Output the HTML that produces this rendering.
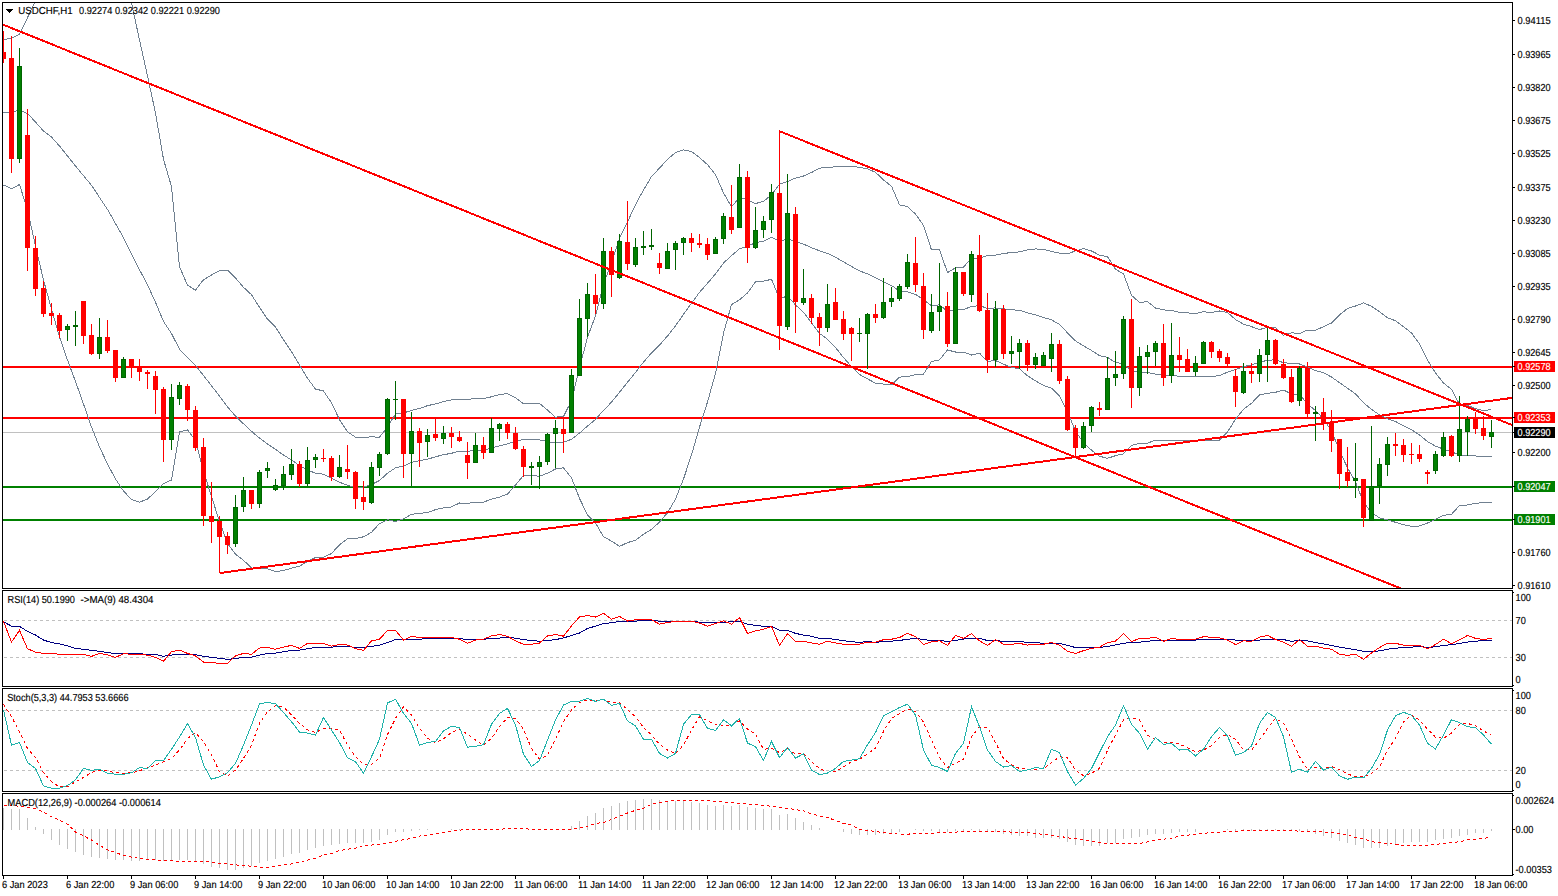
<!DOCTYPE html>
<html><head><meta charset="utf-8"><style>
html,body{margin:0;padding:0;background:#fff;overflow:hidden;}
svg{display:block;}
text{font-family:"Liberation Sans",sans-serif;text-rendering:geometricPrecision;}
</style></head><body>
<svg width="1558" height="896" viewBox="0 0 1558 896" font-family='"Liberation Sans", sans-serif'><defs>
<clipPath id="cm"><rect x="3" y="3" width="1509" height="585"/></clipPath>
<clipPath id="cr"><rect x="3" y="591" width="1509" height="95"/></clipPath>
<clipPath id="cs"><rect x="3" y="689" width="1509" height="102"/></clipPath>
<clipPath id="cd"><rect x="3" y="794" width="1509" height="81"/></clipPath>
</defs>
<rect x="0" y="0" width="1558" height="896" fill="#fff"/>
<g clip-path="url(#cm)">
<rect x="3" y="432" width="1509" height="1" fill="#c0c0c0"/>
<rect x="3" y="366" width="1509" height="2" fill="#ff0000"/>
<rect x="3" y="417" width="1509" height="2" fill="#ff0000"/>
<rect x="3" y="486" width="1509" height="2" fill="#008000"/>
<rect x="3" y="519" width="1509" height="2" fill="#008000"/>
<path d="M3.5,39.6 L11.5,38.4 L19.5,34.4 L27.5,17.6 L35.5,0.8 L43.5,-40.0 L123.5,-34.0 L131.5,3.0 L139.5,40.0 L147.5,76.0 L155.5,113.0 L163.5,159.3 L171.5,186.6 L179.5,266.8 L187.5,285.1 L195.5,290.3 L203.5,279.7 L211.5,275.0 L219.5,270.6 L227.5,270.2 L235.5,278.0 L243.5,287.3 L251.5,294.7 L259.5,307.4 L267.5,319.1 L275.5,327.1 L283.5,339.7 L291.5,351.7 L299.5,364.9 L307.5,378.3 L315.5,389.0 L323.5,391.0 L331.5,402.8 L339.5,419.7 L347.5,431.8 L355.5,437.2 L363.5,437.6 L371.5,436.8 L379.5,437.3 L387.5,426.8 L395.5,414.1 L403.5,413.0 L411.5,410.4 L419.5,408.4 L427.5,405.7 L435.5,403.9 L443.5,401.6 L451.5,399.8 L459.5,399.2 L467.5,399.3 L475.5,398.7 L483.5,398.5 L491.5,396.8 L499.5,394.5 L507.5,393.6 L515.5,397.6 L523.5,403.7 L531.5,403.8 L539.5,403.4 L547.5,410.1 L555.5,417.2 L563.5,416.4 L571.5,400.8 L579.5,367.9 L587.5,337.2 L595.5,315.8 L603.5,283.8 L611.5,263.3 L619.5,238.1 L627.5,222.0 L635.5,204.6 L643.5,190.0 L651.5,176.5 L659.5,168.1 L667.5,159.3 L675.5,152.5 L683.5,149.9 L691.5,151.5 L699.5,157.5 L707.5,164.7 L715.5,174.6 L723.5,192.9 L731.5,206.8 L739.5,197.5 L747.5,199.7 L755.5,203.6 L763.5,201.3 L771.5,194.9 L779.5,184.2 L787.5,181.5 L795.5,178.1 L803.5,176.0 L811.5,172.5 L819.5,168.1 L827.5,167.5 L835.5,166.8 L843.5,166.2 L851.5,166.4 L859.5,167.3 L867.5,168.8 L875.5,172.3 L883.5,180.0 L891.5,186.2 L899.5,204.8 L907.5,206.7 L915.5,214.0 L923.5,225.4 L931.5,249.9 L939.5,249.7 L947.5,272.6 L955.5,267.8 L963.5,267.1 L971.5,258.0 L979.5,258.1 L987.5,255.4 L995.5,255.2 L1003.5,253.6 L1011.5,252.4 L1019.5,251.9 L1027.5,249.9 L1035.5,248.9 L1043.5,249.5 L1051.5,251.4 L1059.5,253.1 L1067.5,253.8 L1075.5,250.9 L1083.5,248.6 L1091.5,251.0 L1099.5,255.1 L1107.5,256.6 L1115.5,269.3 L1123.5,273.9 L1131.5,295.3 L1139.5,302.4 L1147.5,301.7 L1155.5,308.0 L1163.5,309.9 L1171.5,310.4 L1179.5,312.4 L1187.5,312.9 L1195.5,313.5 L1203.5,311.7 L1211.5,312.6 L1219.5,311.0 L1227.5,312.5 L1235.5,319.5 L1243.5,324.1 L1251.5,326.6 L1259.5,329.6 L1267.5,327.3 L1275.5,327.3 L1283.5,335.2 L1291.5,332.8 L1299.5,333.5 L1307.5,330.1 L1315.5,330.3 L1323.5,326.6 L1331.5,323.0 L1339.5,314.9 L1347.5,308.5 L1355.5,306.0 L1363.5,302.9 L1371.5,306.2 L1379.5,311.8 L1387.5,317.8 L1395.5,320.7 L1403.5,326.7 L1411.5,333.0 L1419.5,343.7 L1427.5,360.0 L1435.5,372.9 L1443.5,383.0 L1451.5,389.4 L1459.5,404.3 L1467.5,405.4 L1475.5,408.6 L1483.5,410.6 L1491.5,409.6" fill="none" stroke="#708090" stroke-width="1" shape-rendering="crispEdges"/>
<path d="M3.5,112.5 L11.5,111.8 L19.5,110.3 L27.5,113.5 L35.5,122.0 L43.5,131.0 L51.5,137.0 L59.5,146.0 L67.5,156.0 L75.5,166.0 L83.5,175.7 L91.5,185.3 L99.5,197.4 L107.5,209.4 L115.5,223.5 L123.5,237.6 L131.5,253.7 L139.5,269.7 L147.5,284.8 L155.5,302.3 L163.5,321.4 L171.5,333.4 L179.5,349.3 L187.5,357.4 L195.5,365.4 L203.5,375.5 L211.5,385.8 L219.5,396.1 L227.5,406.9 L235.5,416.0 L243.5,423.8 L251.5,431.3 L259.5,438.1 L267.5,444.0 L275.5,449.4 L283.5,455.1 L291.5,459.9 L299.5,465.6 L307.5,469.9 L315.5,473.3 L323.5,474.2 L331.5,478.1 L339.5,482.2 L347.5,485.3 L355.5,487.9 L363.5,487.2 L371.5,484.5 L379.5,480.5 L387.5,473.2 L395.5,467.8 L403.5,466.0 L411.5,462.3 L419.5,460.8 L427.5,459.2 L435.5,456.8 L443.5,454.7 L451.5,453.3 L459.5,451.1 L467.5,451.2 L475.5,450.6 L483.5,450.3 L491.5,447.9 L499.5,445.8 L507.5,443.8 L515.5,441.3 L523.5,439.5 L531.5,439.5 L539.5,439.9 L547.5,441.6 L555.5,443.1 L563.5,442.1 L571.5,439.3 L579.5,433.1 L587.5,426.1 L595.5,419.4 L603.5,410.3 L611.5,402.2 L619.5,392.3 L627.5,382.3 L635.5,372.4 L643.5,362.1 L651.5,352.9 L659.5,345.1 L667.5,336.0 L675.5,325.8 L683.5,314.4 L691.5,303.2 L699.5,292.3 L707.5,283.3 L715.5,273.9 L723.5,263.0 L731.5,255.7 L739.5,248.7 L747.5,246.3 L755.5,242.7 L763.5,241.2 L771.5,237.1 L779.5,241.3 L787.5,238.8 L795.5,241.5 L803.5,244.1 L811.5,247.7 L819.5,250.8 L827.5,253.4 L835.5,257.2 L843.5,261.9 L851.5,266.4 L859.5,270.9 L867.5,273.9 L875.5,277.7 L883.5,282.0 L891.5,285.5 L899.5,291.0 L907.5,291.7 L915.5,294.4 L923.5,299.7 L931.5,305.8 L939.5,304.8 L947.5,311.3 L955.5,309.9 L963.5,309.6 L971.5,306.5 L979.5,305.6 L987.5,308.4 L995.5,307.9 L1003.5,308.9 L1011.5,309.8 L1019.5,310.3 L1027.5,312.8 L1035.5,314.8 L1043.5,317.5 L1051.5,319.8 L1059.5,324.5 L1067.5,332.8 L1075.5,340.9 L1083.5,345.8 L1091.5,350.5 L1099.5,355.7 L1107.5,357.4 L1115.5,362.5 L1123.5,363.8 L1131.5,370.5 L1139.5,372.7 L1147.5,372.4 L1155.5,374.1 L1163.5,375.3 L1171.5,375.5 L1179.5,376.3 L1187.5,376.6 L1195.5,376.9 L1203.5,376.3 L1211.5,376.6 L1219.5,375.5 L1227.5,372.2 L1235.5,369.4 L1243.5,366.7 L1251.5,364.9 L1259.5,362.2 L1267.5,360.3 L1275.5,359.8 L1283.5,362.7 L1291.5,363.4 L1299.5,364.0 L1307.5,367.0 L1315.5,370.5 L1323.5,372.8 L1331.5,377.0 L1339.5,382.7 L1347.5,388.2 L1355.5,393.9 L1363.5,402.7 L1371.5,409.4 L1379.5,414.8 L1387.5,418.8 L1395.5,421.5 L1403.5,425.7 L1411.5,429.7 L1419.5,434.9 L1427.5,441.5 L1435.5,446.1 L1443.5,449.1 L1451.5,451.8 L1459.5,454.9 L1467.5,455.2 L1475.5,456.0 L1483.5,456.6 L1491.5,456.2" fill="none" stroke="#708090" stroke-width="1" shape-rendering="crispEdges"/>
<path d="M3.5,185.0 L11.5,188.8 L19.5,184.5 L27.5,210.0 L35.5,246.0 L43.5,280.0 L51.5,309.0 L59.5,337.0 L67.5,360.0 L75.5,381.5 L83.5,404.0 L91.5,427.0 L99.5,447.0 L107.5,464.0 L115.5,479.0 L123.5,491.0 L131.5,499.5 L139.5,502.2 L147.5,499.0 L155.5,491.7 L163.5,483.6 L171.5,480.1 L179.5,431.9 L187.5,429.8 L195.5,440.4 L203.5,471.3 L211.5,496.5 L219.5,521.5 L227.5,543.6 L235.5,554.1 L243.5,560.3 L251.5,568.0 L259.5,568.8 L267.5,568.9 L275.5,571.6 L283.5,570.5 L291.5,568.2 L299.5,566.2 L307.5,561.5 L315.5,557.5 L323.5,557.3 L331.5,553.5 L339.5,544.8 L347.5,538.8 L355.5,538.6 L363.5,536.8 L371.5,532.3 L379.5,523.6 L387.5,519.7 L395.5,521.5 L403.5,518.9 L411.5,514.3 L419.5,513.3 L427.5,512.6 L435.5,509.6 L443.5,507.9 L451.5,506.9 L459.5,503.0 L467.5,503.2 L475.5,502.6 L483.5,502.2 L491.5,499.1 L499.5,497.1 L507.5,494.1 L515.5,485.0 L523.5,475.4 L531.5,475.2 L539.5,476.3 L547.5,473.2 L555.5,469.0 L563.5,467.8 L571.5,477.9 L579.5,498.4 L587.5,515.0 L595.5,523.0 L603.5,536.7 L611.5,541.1 L619.5,546.4 L627.5,542.6 L635.5,540.2 L643.5,534.3 L651.5,529.4 L659.5,522.1 L667.5,512.8 L675.5,499.1 L683.5,479.0 L691.5,454.9 L699.5,427.2 L707.5,402.0 L715.5,373.2 L723.5,333.2 L731.5,304.6 L739.5,299.8 L747.5,293.0 L755.5,281.9 L763.5,281.2 L771.5,279.3 L779.5,298.4 L787.5,296.2 L795.5,304.9 L803.5,312.3 L811.5,322.9 L819.5,333.4 L827.5,339.2 L835.5,347.5 L843.5,357.6 L851.5,366.5 L859.5,374.5 L867.5,378.9 L875.5,383.2 L883.5,384.1 L891.5,384.8 L899.5,377.1 L907.5,376.6 L915.5,374.7 L923.5,374.1 L931.5,361.6 L939.5,359.9 L947.5,350.0 L955.5,352.0 L963.5,352.0 L971.5,355.0 L979.5,353.2 L987.5,361.3 L995.5,360.6 L1003.5,364.2 L1011.5,367.3 L1019.5,368.8 L1027.5,375.8 L1035.5,380.8 L1043.5,385.5 L1051.5,388.2 L1059.5,395.9 L1067.5,411.8 L1075.5,431.0 L1083.5,443.0 L1091.5,450.1 L1099.5,456.2 L1107.5,458.3 L1115.5,455.7 L1123.5,453.8 L1131.5,445.6 L1139.5,443.1 L1147.5,443.1 L1155.5,440.2 L1163.5,440.7 L1171.5,440.6 L1179.5,440.2 L1187.5,440.4 L1195.5,440.4 L1203.5,440.9 L1211.5,440.6 L1219.5,440.0 L1227.5,432.0 L1235.5,419.3 L1243.5,409.2 L1251.5,403.3 L1259.5,394.9 L1267.5,393.4 L1275.5,392.3 L1283.5,390.1 L1291.5,393.9 L1299.5,394.4 L1307.5,403.9 L1315.5,410.6 L1323.5,418.9 L1331.5,430.9 L1339.5,450.5 L1347.5,467.8 L1355.5,481.8 L1363.5,502.4 L1371.5,512.6 L1379.5,517.8 L1387.5,519.8 L1395.5,522.3 L1403.5,524.7 L1411.5,526.4 L1419.5,526.0 L1427.5,523.0 L1435.5,519.3 L1443.5,515.3 L1451.5,514.3 L1459.5,505.6 L1467.5,505.0 L1475.5,503.4 L1483.5,502.6 L1491.5,502.9" fill="none" stroke="#708090" stroke-width="1" shape-rendering="crispEdges"/>
<rect x="3" y="31" width="1" height="32" fill="#ff0000"/>
<rect x="1" y="52" width="5" height="7" fill="#ff0000"/>
<rect x="11" y="36" width="1" height="137" fill="#ff0000"/>
<rect x="9" y="58" width="5" height="101" fill="#ff0000"/>
<rect x="19" y="48" width="1" height="115" fill="#006400"/>
<rect x="17" y="66" width="5" height="93" fill="#006400"/>
<rect x="18" y="67" width="3" height="91" fill="#008000"/>
<rect x="27" y="109" width="1" height="162" fill="#ff0000"/>
<rect x="25" y="135" width="5" height="113" fill="#ff0000"/>
<rect x="35" y="236" width="1" height="60" fill="#ff0000"/>
<rect x="33" y="248" width="5" height="41" fill="#ff0000"/>
<rect x="43" y="281" width="1" height="36" fill="#ff0000"/>
<rect x="41" y="288" width="5" height="26" fill="#ff0000"/>
<rect x="51" y="303" width="1" height="22" fill="#ff0000"/>
<rect x="49" y="313" width="5" height="3" fill="#ff0000"/>
<rect x="59" y="313" width="1" height="25" fill="#ff0000"/>
<rect x="57" y="315" width="5" height="16" fill="#ff0000"/>
<rect x="67" y="324" width="1" height="17" fill="#006400"/>
<rect x="65" y="326" width="5" height="4" fill="#006400"/>
<rect x="66" y="327" width="3" height="2" fill="#008000"/>
<rect x="75" y="311" width="1" height="35" fill="#006400"/>
<rect x="73" y="325" width="5" height="2" fill="#006400"/>
<rect x="83" y="301" width="1" height="43" fill="#ff0000"/>
<rect x="81" y="301" width="5" height="35" fill="#ff0000"/>
<rect x="91" y="324" width="1" height="31" fill="#ff0000"/>
<rect x="89" y="335" width="5" height="19" fill="#ff0000"/>
<rect x="99" y="318" width="1" height="41" fill="#006400"/>
<rect x="97" y="337" width="5" height="17" fill="#006400"/>
<rect x="98" y="338" width="3" height="15" fill="#008000"/>
<rect x="107" y="320" width="1" height="33" fill="#ff0000"/>
<rect x="105" y="337" width="5" height="14" fill="#ff0000"/>
<rect x="115" y="350" width="1" height="32" fill="#ff0000"/>
<rect x="113" y="350" width="5" height="28" fill="#ff0000"/>
<rect x="123" y="357" width="1" height="21" fill="#006400"/>
<rect x="121" y="359" width="5" height="19" fill="#006400"/>
<rect x="122" y="360" width="3" height="17" fill="#008000"/>
<rect x="131" y="359" width="1" height="19" fill="#ff0000"/>
<rect x="129" y="359" width="5" height="9" fill="#ff0000"/>
<rect x="139" y="359" width="1" height="22" fill="#ff0000"/>
<rect x="137" y="367" width="5" height="5" fill="#ff0000"/>
<rect x="147" y="370" width="1" height="19" fill="#ff0000"/>
<rect x="145" y="372" width="5" height="2" fill="#ff0000"/>
<rect x="155" y="371" width="1" height="43" fill="#ff0000"/>
<rect x="153" y="376" width="5" height="14" fill="#ff0000"/>
<rect x="163" y="387" width="1" height="75" fill="#ff0000"/>
<rect x="161" y="389" width="5" height="51" fill="#ff0000"/>
<rect x="171" y="384" width="1" height="66" fill="#006400"/>
<rect x="169" y="397" width="5" height="43" fill="#006400"/>
<rect x="170" y="398" width="3" height="41" fill="#008000"/>
<rect x="179" y="382" width="1" height="23" fill="#006400"/>
<rect x="177" y="385" width="5" height="14" fill="#006400"/>
<rect x="178" y="386" width="3" height="12" fill="#008000"/>
<rect x="187" y="384" width="1" height="37" fill="#ff0000"/>
<rect x="185" y="386" width="5" height="24" fill="#ff0000"/>
<rect x="195" y="406" width="1" height="45" fill="#ff0000"/>
<rect x="193" y="410" width="5" height="38" fill="#ff0000"/>
<rect x="203" y="438" width="1" height="88" fill="#ff0000"/>
<rect x="201" y="447" width="5" height="69" fill="#ff0000"/>
<rect x="211" y="482" width="1" height="61" fill="#ff0000"/>
<rect x="209" y="516" width="5" height="6" fill="#ff0000"/>
<rect x="219" y="516" width="1" height="57" fill="#ff0000"/>
<rect x="217" y="521" width="5" height="16" fill="#ff0000"/>
<rect x="227" y="532" width="1" height="22" fill="#ff0000"/>
<rect x="225" y="536" width="5" height="9" fill="#ff0000"/>
<rect x="235" y="495" width="1" height="52" fill="#006400"/>
<rect x="233" y="507" width="5" height="37" fill="#006400"/>
<rect x="234" y="508" width="3" height="35" fill="#008000"/>
<rect x="243" y="477" width="1" height="35" fill="#006400"/>
<rect x="241" y="490" width="5" height="17" fill="#006400"/>
<rect x="242" y="491" width="3" height="15" fill="#008000"/>
<rect x="251" y="490" width="1" height="19" fill="#ff0000"/>
<rect x="249" y="490" width="5" height="14" fill="#ff0000"/>
<rect x="259" y="470" width="1" height="38" fill="#006400"/>
<rect x="257" y="472" width="5" height="32" fill="#006400"/>
<rect x="258" y="473" width="3" height="30" fill="#008000"/>
<rect x="267" y="462" width="1" height="16" fill="#006400"/>
<rect x="265" y="468" width="5" height="3" fill="#006400"/>
<rect x="266" y="469" width="3" height="1" fill="#008000"/>
<rect x="275" y="479" width="1" height="12" fill="#006400"/>
<rect x="273" y="485" width="5" height="5" fill="#006400"/>
<rect x="274" y="486" width="3" height="3" fill="#008000"/>
<rect x="283" y="466" width="1" height="24" fill="#006400"/>
<rect x="281" y="474" width="5" height="12" fill="#006400"/>
<rect x="282" y="475" width="3" height="10" fill="#008000"/>
<rect x="291" y="449" width="1" height="31" fill="#006400"/>
<rect x="289" y="464" width="5" height="11" fill="#006400"/>
<rect x="290" y="465" width="3" height="9" fill="#008000"/>
<rect x="299" y="461" width="1" height="26" fill="#ff0000"/>
<rect x="297" y="464" width="5" height="20" fill="#ff0000"/>
<rect x="307" y="447" width="1" height="39" fill="#006400"/>
<rect x="305" y="460" width="5" height="24" fill="#006400"/>
<rect x="306" y="461" width="3" height="22" fill="#008000"/>
<rect x="315" y="454" width="1" height="14" fill="#006400"/>
<rect x="313" y="457" width="5" height="3" fill="#006400"/>
<rect x="314" y="458" width="3" height="1" fill="#008000"/>
<rect x="323" y="449" width="1" height="13" fill="#ff0000"/>
<rect x="321" y="458" width="5" height="1" fill="#ff0000"/>
<rect x="331" y="456" width="1" height="25" fill="#ff0000"/>
<rect x="329" y="458" width="5" height="19" fill="#ff0000"/>
<rect x="339" y="455" width="1" height="23" fill="#006400"/>
<rect x="337" y="467" width="5" height="10" fill="#006400"/>
<rect x="338" y="468" width="3" height="8" fill="#008000"/>
<rect x="347" y="445" width="1" height="34" fill="#ff0000"/>
<rect x="345" y="469" width="5" height="3" fill="#ff0000"/>
<rect x="355" y="471" width="1" height="38" fill="#ff0000"/>
<rect x="353" y="472" width="5" height="27" fill="#ff0000"/>
<rect x="363" y="481" width="1" height="29" fill="#ff0000"/>
<rect x="361" y="497" width="5" height="5" fill="#ff0000"/>
<rect x="371" y="462" width="1" height="42" fill="#006400"/>
<rect x="369" y="467" width="5" height="36" fill="#006400"/>
<rect x="370" y="468" width="3" height="34" fill="#008000"/>
<rect x="379" y="452" width="1" height="24" fill="#006400"/>
<rect x="377" y="454" width="5" height="14" fill="#006400"/>
<rect x="378" y="455" width="3" height="12" fill="#008000"/>
<rect x="387" y="398" width="1" height="57" fill="#006400"/>
<rect x="385" y="399" width="5" height="55" fill="#006400"/>
<rect x="386" y="400" width="3" height="53" fill="#008000"/>
<rect x="395" y="381" width="1" height="39" fill="#006400"/>
<rect x="393" y="399" width="5" height="1" fill="#006400"/>
<rect x="403" y="399" width="1" height="79" fill="#ff0000"/>
<rect x="401" y="399" width="5" height="55" fill="#ff0000"/>
<rect x="411" y="412" width="1" height="74" fill="#006400"/>
<rect x="409" y="431" width="5" height="23" fill="#006400"/>
<rect x="410" y="432" width="3" height="21" fill="#008000"/>
<rect x="419" y="428" width="1" height="39" fill="#ff0000"/>
<rect x="417" y="431" width="5" height="12" fill="#ff0000"/>
<rect x="427" y="429" width="1" height="28" fill="#006400"/>
<rect x="425" y="435" width="5" height="7" fill="#006400"/>
<rect x="426" y="436" width="3" height="5" fill="#008000"/>
<rect x="435" y="419" width="1" height="22" fill="#ff0000"/>
<rect x="433" y="434" width="5" height="4" fill="#ff0000"/>
<rect x="443" y="426" width="1" height="18" fill="#006400"/>
<rect x="441" y="433" width="5" height="6" fill="#006400"/>
<rect x="442" y="434" width="3" height="4" fill="#008000"/>
<rect x="451" y="427" width="1" height="21" fill="#ff0000"/>
<rect x="449" y="433" width="5" height="4" fill="#ff0000"/>
<rect x="459" y="431" width="1" height="11" fill="#ff0000"/>
<rect x="457" y="437" width="5" height="4" fill="#ff0000"/>
<rect x="467" y="442" width="1" height="37" fill="#ff0000"/>
<rect x="465" y="455" width="5" height="8" fill="#ff0000"/>
<rect x="475" y="433" width="1" height="30" fill="#006400"/>
<rect x="473" y="445" width="5" height="18" fill="#006400"/>
<rect x="474" y="446" width="3" height="16" fill="#008000"/>
<rect x="483" y="437" width="1" height="22" fill="#ff0000"/>
<rect x="481" y="445" width="5" height="8" fill="#ff0000"/>
<rect x="491" y="418" width="1" height="35" fill="#006400"/>
<rect x="489" y="428" width="5" height="25" fill="#006400"/>
<rect x="490" y="429" width="3" height="23" fill="#008000"/>
<rect x="499" y="423" width="1" height="18" fill="#006400"/>
<rect x="497" y="424" width="5" height="5" fill="#006400"/>
<rect x="498" y="425" width="3" height="3" fill="#008000"/>
<rect x="507" y="422" width="1" height="17" fill="#ff0000"/>
<rect x="505" y="424" width="5" height="9" fill="#ff0000"/>
<rect x="515" y="427" width="1" height="23" fill="#ff0000"/>
<rect x="513" y="433" width="5" height="16" fill="#ff0000"/>
<rect x="523" y="446" width="1" height="31" fill="#ff0000"/>
<rect x="521" y="449" width="5" height="18" fill="#ff0000"/>
<rect x="531" y="462" width="1" height="23" fill="#006400"/>
<rect x="529" y="466" width="5" height="2" fill="#006400"/>
<rect x="539" y="456" width="1" height="33" fill="#006400"/>
<rect x="537" y="462" width="5" height="5" fill="#006400"/>
<rect x="538" y="463" width="3" height="3" fill="#008000"/>
<rect x="547" y="433" width="1" height="32" fill="#006400"/>
<rect x="545" y="434" width="5" height="28" fill="#006400"/>
<rect x="546" y="435" width="3" height="26" fill="#008000"/>
<rect x="555" y="420" width="1" height="48" fill="#006400"/>
<rect x="553" y="428" width="5" height="6" fill="#006400"/>
<rect x="554" y="429" width="3" height="4" fill="#008000"/>
<rect x="563" y="418" width="1" height="35" fill="#ff0000"/>
<rect x="561" y="429" width="5" height="5" fill="#ff0000"/>
<rect x="571" y="369" width="1" height="64" fill="#006400"/>
<rect x="569" y="375" width="5" height="58" fill="#006400"/>
<rect x="570" y="376" width="3" height="56" fill="#008000"/>
<rect x="579" y="299" width="1" height="77" fill="#006400"/>
<rect x="577" y="318" width="5" height="58" fill="#006400"/>
<rect x="578" y="319" width="3" height="56" fill="#008000"/>
<rect x="587" y="283" width="1" height="54" fill="#006400"/>
<rect x="585" y="294" width="5" height="25" fill="#006400"/>
<rect x="586" y="295" width="3" height="23" fill="#008000"/>
<rect x="595" y="274" width="1" height="40" fill="#ff0000"/>
<rect x="593" y="295" width="5" height="9" fill="#ff0000"/>
<rect x="603" y="238" width="1" height="71" fill="#006400"/>
<rect x="601" y="251" width="5" height="53" fill="#006400"/>
<rect x="602" y="252" width="3" height="51" fill="#008000"/>
<rect x="611" y="247" width="1" height="50" fill="#ff0000"/>
<rect x="609" y="251" width="5" height="24" fill="#ff0000"/>
<rect x="619" y="234" width="1" height="45" fill="#006400"/>
<rect x="617" y="241" width="5" height="37" fill="#006400"/>
<rect x="618" y="242" width="3" height="35" fill="#008000"/>
<rect x="627" y="201" width="1" height="69" fill="#ff0000"/>
<rect x="625" y="242" width="5" height="22" fill="#ff0000"/>
<rect x="635" y="238" width="1" height="29" fill="#006400"/>
<rect x="633" y="247" width="5" height="18" fill="#006400"/>
<rect x="634" y="248" width="3" height="16" fill="#008000"/>
<rect x="643" y="231" width="1" height="24" fill="#006400"/>
<rect x="641" y="246" width="5" height="2" fill="#006400"/>
<rect x="651" y="229" width="1" height="21" fill="#006400"/>
<rect x="649" y="245" width="5" height="2" fill="#006400"/>
<rect x="659" y="253" width="1" height="21" fill="#ff0000"/>
<rect x="657" y="263" width="5" height="5" fill="#ff0000"/>
<rect x="667" y="243" width="1" height="26" fill="#006400"/>
<rect x="665" y="251" width="5" height="18" fill="#006400"/>
<rect x="666" y="252" width="3" height="16" fill="#008000"/>
<rect x="675" y="241" width="1" height="29" fill="#006400"/>
<rect x="673" y="243" width="5" height="7" fill="#006400"/>
<rect x="674" y="244" width="3" height="5" fill="#008000"/>
<rect x="683" y="237" width="1" height="18" fill="#006400"/>
<rect x="681" y="238" width="5" height="5" fill="#006400"/>
<rect x="682" y="239" width="3" height="3" fill="#008000"/>
<rect x="691" y="233" width="1" height="19" fill="#ff0000"/>
<rect x="689" y="238" width="5" height="5" fill="#ff0000"/>
<rect x="699" y="234" width="1" height="14" fill="#ff0000"/>
<rect x="697" y="243" width="5" height="2" fill="#ff0000"/>
<rect x="707" y="238" width="1" height="22" fill="#ff0000"/>
<rect x="705" y="244" width="5" height="11" fill="#ff0000"/>
<rect x="715" y="237" width="1" height="17" fill="#006400"/>
<rect x="713" y="239" width="5" height="15" fill="#006400"/>
<rect x="714" y="240" width="3" height="13" fill="#008000"/>
<rect x="723" y="213" width="1" height="31" fill="#006400"/>
<rect x="721" y="216" width="5" height="23" fill="#006400"/>
<rect x="722" y="217" width="3" height="21" fill="#008000"/>
<rect x="731" y="185" width="1" height="49" fill="#ff0000"/>
<rect x="729" y="217" width="5" height="13" fill="#ff0000"/>
<rect x="739" y="164" width="1" height="64" fill="#006400"/>
<rect x="737" y="177" width="5" height="51" fill="#006400"/>
<rect x="738" y="178" width="3" height="49" fill="#008000"/>
<rect x="747" y="171" width="1" height="92" fill="#ff0000"/>
<rect x="745" y="177" width="5" height="71" fill="#ff0000"/>
<rect x="755" y="207" width="1" height="42" fill="#006400"/>
<rect x="753" y="230" width="5" height="18" fill="#006400"/>
<rect x="754" y="231" width="3" height="16" fill="#008000"/>
<rect x="763" y="216" width="1" height="22" fill="#006400"/>
<rect x="761" y="221" width="5" height="9" fill="#006400"/>
<rect x="762" y="222" width="3" height="7" fill="#008000"/>
<rect x="771" y="184" width="1" height="49" fill="#006400"/>
<rect x="769" y="192" width="5" height="28" fill="#006400"/>
<rect x="770" y="193" width="3" height="26" fill="#008000"/>
<rect x="779" y="131" width="1" height="219" fill="#ff0000"/>
<rect x="777" y="193" width="5" height="133" fill="#ff0000"/>
<rect x="787" y="174" width="1" height="156" fill="#006400"/>
<rect x="785" y="213" width="5" height="114" fill="#006400"/>
<rect x="786" y="214" width="3" height="112" fill="#008000"/>
<rect x="795" y="207" width="1" height="126" fill="#ff0000"/>
<rect x="793" y="214" width="5" height="88" fill="#ff0000"/>
<rect x="803" y="269" width="1" height="36" fill="#006400"/>
<rect x="801" y="298" width="5" height="5" fill="#006400"/>
<rect x="802" y="299" width="3" height="3" fill="#008000"/>
<rect x="811" y="294" width="1" height="30" fill="#ff0000"/>
<rect x="809" y="298" width="5" height="20" fill="#ff0000"/>
<rect x="819" y="313" width="1" height="33" fill="#ff0000"/>
<rect x="817" y="317" width="5" height="11" fill="#ff0000"/>
<rect x="827" y="284" width="1" height="48" fill="#006400"/>
<rect x="825" y="304" width="5" height="24" fill="#006400"/>
<rect x="826" y="305" width="3" height="22" fill="#008000"/>
<rect x="835" y="288" width="1" height="32" fill="#ff0000"/>
<rect x="833" y="302" width="5" height="18" fill="#ff0000"/>
<rect x="843" y="311" width="1" height="29" fill="#ff0000"/>
<rect x="841" y="319" width="5" height="15" fill="#ff0000"/>
<rect x="851" y="327" width="1" height="34" fill="#ff0000"/>
<rect x="849" y="328" width="5" height="6" fill="#ff0000"/>
<rect x="859" y="318" width="1" height="24" fill="#006400"/>
<rect x="857" y="333" width="5" height="1" fill="#006400"/>
<rect x="867" y="313" width="1" height="56" fill="#006400"/>
<rect x="865" y="314" width="5" height="20" fill="#006400"/>
<rect x="866" y="315" width="3" height="18" fill="#008000"/>
<rect x="875" y="304" width="1" height="19" fill="#ff0000"/>
<rect x="873" y="314" width="5" height="4" fill="#ff0000"/>
<rect x="883" y="278" width="1" height="41" fill="#006400"/>
<rect x="881" y="302" width="5" height="16" fill="#006400"/>
<rect x="882" y="303" width="3" height="14" fill="#008000"/>
<rect x="891" y="287" width="1" height="20" fill="#006400"/>
<rect x="889" y="298" width="5" height="4" fill="#006400"/>
<rect x="890" y="299" width="3" height="2" fill="#008000"/>
<rect x="899" y="284" width="1" height="17" fill="#006400"/>
<rect x="897" y="286" width="5" height="13" fill="#006400"/>
<rect x="898" y="287" width="3" height="11" fill="#008000"/>
<rect x="907" y="254" width="1" height="35" fill="#006400"/>
<rect x="905" y="262" width="5" height="25" fill="#006400"/>
<rect x="906" y="263" width="3" height="23" fill="#008000"/>
<rect x="915" y="237" width="1" height="55" fill="#ff0000"/>
<rect x="913" y="263" width="5" height="22" fill="#ff0000"/>
<rect x="923" y="273" width="1" height="66" fill="#ff0000"/>
<rect x="921" y="286" width="5" height="44" fill="#ff0000"/>
<rect x="931" y="294" width="1" height="39" fill="#006400"/>
<rect x="929" y="312" width="5" height="19" fill="#006400"/>
<rect x="930" y="313" width="3" height="17" fill="#008000"/>
<rect x="939" y="263" width="1" height="68" fill="#006400"/>
<rect x="937" y="306" width="5" height="6" fill="#006400"/>
<rect x="938" y="307" width="3" height="4" fill="#008000"/>
<rect x="947" y="292" width="1" height="55" fill="#ff0000"/>
<rect x="945" y="306" width="5" height="38" fill="#ff0000"/>
<rect x="955" y="267" width="1" height="77" fill="#006400"/>
<rect x="953" y="272" width="5" height="72" fill="#006400"/>
<rect x="954" y="273" width="3" height="70" fill="#008000"/>
<rect x="963" y="272" width="1" height="24" fill="#ff0000"/>
<rect x="961" y="272" width="5" height="22" fill="#ff0000"/>
<rect x="971" y="251" width="1" height="51" fill="#006400"/>
<rect x="969" y="254" width="5" height="41" fill="#006400"/>
<rect x="970" y="255" width="3" height="39" fill="#008000"/>
<rect x="979" y="235" width="1" height="77" fill="#ff0000"/>
<rect x="977" y="255" width="5" height="56" fill="#ff0000"/>
<rect x="987" y="293" width="1" height="80" fill="#ff0000"/>
<rect x="985" y="310" width="5" height="50" fill="#ff0000"/>
<rect x="995" y="301" width="1" height="66" fill="#006400"/>
<rect x="993" y="309" width="5" height="51" fill="#006400"/>
<rect x="994" y="310" width="3" height="49" fill="#008000"/>
<rect x="1003" y="305" width="1" height="54" fill="#ff0000"/>
<rect x="1001" y="309" width="5" height="45" fill="#ff0000"/>
<rect x="1011" y="336" width="1" height="28" fill="#006400"/>
<rect x="1009" y="351" width="5" height="3" fill="#006400"/>
<rect x="1010" y="352" width="3" height="1" fill="#008000"/>
<rect x="1019" y="339" width="1" height="30" fill="#006400"/>
<rect x="1017" y="343" width="5" height="9" fill="#006400"/>
<rect x="1018" y="344" width="3" height="7" fill="#008000"/>
<rect x="1027" y="340" width="1" height="31" fill="#ff0000"/>
<rect x="1025" y="343" width="5" height="22" fill="#ff0000"/>
<rect x="1035" y="353" width="1" height="16" fill="#006400"/>
<rect x="1033" y="357" width="5" height="8" fill="#006400"/>
<rect x="1034" y="358" width="3" height="6" fill="#008000"/>
<rect x="1043" y="352" width="1" height="14" fill="#006400"/>
<rect x="1041" y="355" width="5" height="11" fill="#006400"/>
<rect x="1042" y="356" width="3" height="9" fill="#008000"/>
<rect x="1051" y="333" width="1" height="39" fill="#006400"/>
<rect x="1049" y="344" width="5" height="15" fill="#006400"/>
<rect x="1050" y="345" width="3" height="13" fill="#008000"/>
<rect x="1059" y="340" width="1" height="44" fill="#ff0000"/>
<rect x="1057" y="344" width="5" height="37" fill="#ff0000"/>
<rect x="1067" y="376" width="1" height="55" fill="#ff0000"/>
<rect x="1065" y="379" width="5" height="51" fill="#ff0000"/>
<rect x="1075" y="425" width="1" height="31" fill="#ff0000"/>
<rect x="1073" y="428" width="5" height="20" fill="#ff0000"/>
<rect x="1083" y="422" width="1" height="27" fill="#006400"/>
<rect x="1081" y="426" width="5" height="22" fill="#006400"/>
<rect x="1082" y="427" width="3" height="20" fill="#008000"/>
<rect x="1091" y="406" width="1" height="26" fill="#006400"/>
<rect x="1089" y="407" width="5" height="19" fill="#006400"/>
<rect x="1090" y="408" width="3" height="17" fill="#008000"/>
<rect x="1099" y="402" width="1" height="14" fill="#ff0000"/>
<rect x="1097" y="408" width="5" height="2" fill="#ff0000"/>
<rect x="1107" y="357" width="1" height="53" fill="#006400"/>
<rect x="1105" y="378" width="5" height="32" fill="#006400"/>
<rect x="1106" y="379" width="3" height="30" fill="#008000"/>
<rect x="1115" y="351" width="1" height="35" fill="#006400"/>
<rect x="1113" y="374" width="5" height="4" fill="#006400"/>
<rect x="1114" y="375" width="3" height="2" fill="#008000"/>
<rect x="1123" y="316" width="1" height="63" fill="#006400"/>
<rect x="1121" y="319" width="5" height="55" fill="#006400"/>
<rect x="1122" y="320" width="3" height="53" fill="#008000"/>
<rect x="1131" y="299" width="1" height="109" fill="#ff0000"/>
<rect x="1129" y="319" width="5" height="69" fill="#ff0000"/>
<rect x="1139" y="347" width="1" height="49" fill="#006400"/>
<rect x="1137" y="356" width="5" height="32" fill="#006400"/>
<rect x="1138" y="357" width="3" height="30" fill="#008000"/>
<rect x="1147" y="345" width="1" height="29" fill="#006400"/>
<rect x="1145" y="352" width="5" height="5" fill="#006400"/>
<rect x="1146" y="353" width="3" height="3" fill="#008000"/>
<rect x="1155" y="341" width="1" height="25" fill="#006400"/>
<rect x="1153" y="343" width="5" height="9" fill="#006400"/>
<rect x="1154" y="344" width="3" height="7" fill="#008000"/>
<rect x="1163" y="324" width="1" height="62" fill="#ff0000"/>
<rect x="1161" y="343" width="5" height="35" fill="#ff0000"/>
<rect x="1171" y="323" width="1" height="60" fill="#006400"/>
<rect x="1169" y="355" width="5" height="21" fill="#006400"/>
<rect x="1170" y="356" width="3" height="19" fill="#008000"/>
<rect x="1179" y="337" width="1" height="35" fill="#ff0000"/>
<rect x="1177" y="355" width="5" height="5" fill="#ff0000"/>
<rect x="1187" y="349" width="1" height="23" fill="#ff0000"/>
<rect x="1185" y="359" width="5" height="13" fill="#ff0000"/>
<rect x="1195" y="356" width="1" height="20" fill="#006400"/>
<rect x="1193" y="363" width="5" height="9" fill="#006400"/>
<rect x="1194" y="364" width="3" height="7" fill="#008000"/>
<rect x="1203" y="341" width="1" height="23" fill="#006400"/>
<rect x="1201" y="342" width="5" height="22" fill="#006400"/>
<rect x="1202" y="343" width="3" height="20" fill="#008000"/>
<rect x="1211" y="341" width="1" height="17" fill="#ff0000"/>
<rect x="1209" y="342" width="5" height="10" fill="#ff0000"/>
<rect x="1219" y="349" width="1" height="13" fill="#ff0000"/>
<rect x="1217" y="351" width="5" height="7" fill="#ff0000"/>
<rect x="1227" y="353" width="1" height="14" fill="#ff0000"/>
<rect x="1225" y="357" width="5" height="7" fill="#ff0000"/>
<rect x="1235" y="369" width="1" height="38" fill="#ff0000"/>
<rect x="1233" y="376" width="5" height="16" fill="#ff0000"/>
<rect x="1243" y="363" width="1" height="31" fill="#006400"/>
<rect x="1241" y="371" width="5" height="22" fill="#006400"/>
<rect x="1242" y="372" width="3" height="20" fill="#008000"/>
<rect x="1251" y="363" width="1" height="20" fill="#ff0000"/>
<rect x="1249" y="371" width="5" height="3" fill="#ff0000"/>
<rect x="1259" y="349" width="1" height="33" fill="#006400"/>
<rect x="1257" y="355" width="5" height="19" fill="#006400"/>
<rect x="1258" y="356" width="3" height="17" fill="#008000"/>
<rect x="1267" y="328" width="1" height="54" fill="#006400"/>
<rect x="1265" y="340" width="5" height="15" fill="#006400"/>
<rect x="1266" y="341" width="3" height="13" fill="#008000"/>
<rect x="1275" y="339" width="1" height="26" fill="#ff0000"/>
<rect x="1273" y="340" width="5" height="24" fill="#ff0000"/>
<rect x="1283" y="359" width="1" height="20" fill="#ff0000"/>
<rect x="1281" y="364" width="5" height="14" fill="#ff0000"/>
<rect x="1291" y="369" width="1" height="34" fill="#ff0000"/>
<rect x="1289" y="377" width="5" height="25" fill="#ff0000"/>
<rect x="1299" y="366" width="1" height="40" fill="#006400"/>
<rect x="1297" y="368" width="5" height="33" fill="#006400"/>
<rect x="1298" y="369" width="3" height="31" fill="#008000"/>
<rect x="1307" y="362" width="1" height="55" fill="#ff0000"/>
<rect x="1305" y="368" width="5" height="46" fill="#ff0000"/>
<rect x="1315" y="406" width="1" height="35" fill="#006400"/>
<rect x="1313" y="412" width="5" height="2" fill="#006400"/>
<rect x="1323" y="398" width="1" height="32" fill="#ff0000"/>
<rect x="1321" y="412" width="5" height="11" fill="#ff0000"/>
<rect x="1331" y="410" width="1" height="42" fill="#ff0000"/>
<rect x="1329" y="422" width="5" height="19" fill="#ff0000"/>
<rect x="1339" y="439" width="1" height="50" fill="#ff0000"/>
<rect x="1337" y="439" width="5" height="35" fill="#ff0000"/>
<rect x="1347" y="447" width="1" height="40" fill="#ff0000"/>
<rect x="1345" y="472" width="5" height="9" fill="#ff0000"/>
<rect x="1355" y="443" width="1" height="55" fill="#006400"/>
<rect x="1353" y="478" width="5" height="3" fill="#006400"/>
<rect x="1354" y="479" width="3" height="1" fill="#008000"/>
<rect x="1363" y="479" width="1" height="48" fill="#ff0000"/>
<rect x="1361" y="479" width="5" height="39" fill="#ff0000"/>
<rect x="1371" y="426" width="1" height="95" fill="#006400"/>
<rect x="1369" y="486" width="5" height="35" fill="#006400"/>
<rect x="1370" y="487" width="3" height="33" fill="#008000"/>
<rect x="1379" y="458" width="1" height="46" fill="#006400"/>
<rect x="1377" y="464" width="5" height="22" fill="#006400"/>
<rect x="1378" y="465" width="3" height="20" fill="#008000"/>
<rect x="1387" y="437" width="1" height="39" fill="#006400"/>
<rect x="1385" y="444" width="5" height="21" fill="#006400"/>
<rect x="1386" y="445" width="3" height="19" fill="#008000"/>
<rect x="1395" y="433" width="1" height="23" fill="#ff0000"/>
<rect x="1393" y="444" width="5" height="2" fill="#ff0000"/>
<rect x="1403" y="439" width="1" height="23" fill="#ff0000"/>
<rect x="1401" y="445" width="5" height="10" fill="#ff0000"/>
<rect x="1411" y="443" width="1" height="21" fill="#ff0000"/>
<rect x="1409" y="454" width="5" height="1" fill="#ff0000"/>
<rect x="1419" y="445" width="1" height="17" fill="#ff0000"/>
<rect x="1417" y="454" width="5" height="5" fill="#ff0000"/>
<rect x="1427" y="470" width="1" height="14" fill="#ff0000"/>
<rect x="1425" y="472" width="5" height="2" fill="#ff0000"/>
<rect x="1435" y="451" width="1" height="23" fill="#006400"/>
<rect x="1433" y="454" width="5" height="17" fill="#006400"/>
<rect x="1434" y="455" width="3" height="15" fill="#008000"/>
<rect x="1443" y="432" width="1" height="25" fill="#006400"/>
<rect x="1441" y="437" width="5" height="19" fill="#006400"/>
<rect x="1442" y="438" width="3" height="17" fill="#008000"/>
<rect x="1451" y="435" width="1" height="22" fill="#ff0000"/>
<rect x="1449" y="436" width="5" height="20" fill="#ff0000"/>
<rect x="1459" y="396" width="1" height="66" fill="#006400"/>
<rect x="1457" y="429" width="5" height="27" fill="#006400"/>
<rect x="1458" y="430" width="3" height="25" fill="#008000"/>
<rect x="1467" y="416" width="1" height="40" fill="#006400"/>
<rect x="1465" y="419" width="5" height="13" fill="#006400"/>
<rect x="1466" y="420" width="3" height="11" fill="#008000"/>
<rect x="1475" y="412" width="1" height="22" fill="#ff0000"/>
<rect x="1473" y="418" width="5" height="11" fill="#ff0000"/>
<rect x="1483" y="416" width="1" height="24" fill="#ff0000"/>
<rect x="1481" y="428" width="5" height="8" fill="#ff0000"/>
<rect x="1491" y="420" width="1" height="28" fill="#006400"/>
<rect x="1489" y="432" width="5" height="5" fill="#006400"/>
<rect x="1490" y="433" width="3" height="3" fill="#008000"/>
<line x1="3" y1="24.6" x2="1420" y2="596.2178" stroke="#ff0000" stroke-width="2" shape-rendering="crispEdges"/>
<line x1="779" y1="131.0" x2="1512" y2="425.0" stroke="#ff0000" stroke-width="2" shape-rendering="crispEdges"/>
<line x1="220" y1="573.0" x2="1512" y2="397.9" stroke="#ff0000" stroke-width="2" shape-rendering="crispEdges"/>
</g>
<path d="M4,620.5h3 M10,620.5h3 M16,620.5h3 M22,620.5h3 M28,620.5h3 M34,620.5h3 M40,620.5h3 M46,620.5h3 M52,620.5h3 M58,620.5h3 M64,620.5h3 M70,620.5h3 M76,620.5h3 M82,620.5h3 M88,620.5h3 M94,620.5h3 M100,620.5h3 M106,620.5h3 M112,620.5h3 M118,620.5h3 M124,620.5h3 M130,620.5h3 M136,620.5h3 M142,620.5h3 M148,620.5h3 M154,620.5h3 M160,620.5h3 M166,620.5h3 M172,620.5h3 M178,620.5h3 M184,620.5h3 M190,620.5h3 M196,620.5h3 M202,620.5h3 M208,620.5h3 M214,620.5h3 M220,620.5h3 M226,620.5h3 M232,620.5h3 M238,620.5h3 M244,620.5h3 M250,620.5h3 M256,620.5h3 M262,620.5h3 M268,620.5h3 M274,620.5h3 M280,620.5h3 M286,620.5h3 M292,620.5h3 M298,620.5h3 M304,620.5h3 M310,620.5h3 M316,620.5h3 M322,620.5h3 M328,620.5h3 M334,620.5h3 M340,620.5h3 M346,620.5h3 M352,620.5h3 M358,620.5h3 M364,620.5h3 M370,620.5h3 M376,620.5h3 M382,620.5h3 M388,620.5h3 M394,620.5h3 M400,620.5h3 M406,620.5h3 M412,620.5h3 M418,620.5h3 M424,620.5h3 M430,620.5h3 M436,620.5h3 M442,620.5h3 M448,620.5h3 M454,620.5h3 M460,620.5h3 M466,620.5h3 M472,620.5h3 M478,620.5h3 M484,620.5h3 M490,620.5h3 M496,620.5h3 M502,620.5h3 M508,620.5h3 M514,620.5h3 M520,620.5h3 M526,620.5h3 M532,620.5h3 M538,620.5h3 M544,620.5h3 M550,620.5h3 M556,620.5h3 M562,620.5h3 M568,620.5h3 M574,620.5h3 M580,620.5h3 M586,620.5h3 M592,620.5h3 M598,620.5h3 M604,620.5h3 M610,620.5h3 M616,620.5h3 M622,620.5h3 M628,620.5h3 M634,620.5h3 M640,620.5h3 M646,620.5h3 M652,620.5h3 M658,620.5h3 M664,620.5h3 M670,620.5h3 M676,620.5h3 M682,620.5h3 M688,620.5h3 M694,620.5h3 M700,620.5h3 M706,620.5h3 M712,620.5h3 M718,620.5h3 M724,620.5h3 M730,620.5h3 M736,620.5h3 M742,620.5h3 M748,620.5h3 M754,620.5h3 M760,620.5h3 M766,620.5h3 M772,620.5h3 M778,620.5h3 M784,620.5h3 M790,620.5h3 M796,620.5h3 M802,620.5h3 M808,620.5h3 M814,620.5h3 M820,620.5h3 M826,620.5h3 M832,620.5h3 M838,620.5h3 M844,620.5h3 M850,620.5h3 M856,620.5h3 M862,620.5h3 M868,620.5h3 M874,620.5h3 M880,620.5h3 M886,620.5h3 M892,620.5h3 M898,620.5h3 M904,620.5h3 M910,620.5h3 M916,620.5h3 M922,620.5h3 M928,620.5h3 M934,620.5h3 M940,620.5h3 M946,620.5h3 M952,620.5h3 M958,620.5h3 M964,620.5h3 M970,620.5h3 M976,620.5h3 M982,620.5h3 M988,620.5h3 M994,620.5h3 M1000,620.5h3 M1006,620.5h3 M1012,620.5h3 M1018,620.5h3 M1024,620.5h3 M1030,620.5h3 M1036,620.5h3 M1042,620.5h3 M1048,620.5h3 M1054,620.5h3 M1060,620.5h3 M1066,620.5h3 M1072,620.5h3 M1078,620.5h3 M1084,620.5h3 M1090,620.5h3 M1096,620.5h3 M1102,620.5h3 M1108,620.5h3 M1114,620.5h3 M1120,620.5h3 M1126,620.5h3 M1132,620.5h3 M1138,620.5h3 M1144,620.5h3 M1150,620.5h3 M1156,620.5h3 M1162,620.5h3 M1168,620.5h3 M1174,620.5h3 M1180,620.5h3 M1186,620.5h3 M1192,620.5h3 M1198,620.5h3 M1204,620.5h3 M1210,620.5h3 M1216,620.5h3 M1222,620.5h3 M1228,620.5h3 M1234,620.5h3 M1240,620.5h3 M1246,620.5h3 M1252,620.5h3 M1258,620.5h3 M1264,620.5h3 M1270,620.5h3 M1276,620.5h3 M1282,620.5h3 M1288,620.5h3 M1294,620.5h3 M1300,620.5h3 M1306,620.5h3 M1312,620.5h3 M1318,620.5h3 M1324,620.5h3 M1330,620.5h3 M1336,620.5h3 M1342,620.5h3 M1348,620.5h3 M1354,620.5h3 M1360,620.5h3 M1366,620.5h3 M1372,620.5h3 M1378,620.5h3 M1384,620.5h3 M1390,620.5h3 M1396,620.5h3 M1402,620.5h3 M1408,620.5h3 M1414,620.5h3 M1420,620.5h3 M1426,620.5h3 M1432,620.5h3 M1438,620.5h3 M1444,620.5h3 M1450,620.5h3 M1456,620.5h3 M1462,620.5h3 M1468,620.5h3 M1474,620.5h3 M1480,620.5h3 M1486,620.5h3 M1492,620.5h3 M1498,620.5h3 M1504,620.5h3 M1510,620.5h2" stroke="#c0c0c0" stroke-width="1" fill="none" shape-rendering="crispEdges"/>
<path d="M4,657.5h3 M10,657.5h3 M16,657.5h3 M22,657.5h3 M28,657.5h3 M34,657.5h3 M40,657.5h3 M46,657.5h3 M52,657.5h3 M58,657.5h3 M64,657.5h3 M70,657.5h3 M76,657.5h3 M82,657.5h3 M88,657.5h3 M94,657.5h3 M100,657.5h3 M106,657.5h3 M112,657.5h3 M118,657.5h3 M124,657.5h3 M130,657.5h3 M136,657.5h3 M142,657.5h3 M148,657.5h3 M154,657.5h3 M160,657.5h3 M166,657.5h3 M172,657.5h3 M178,657.5h3 M184,657.5h3 M190,657.5h3 M196,657.5h3 M202,657.5h3 M208,657.5h3 M214,657.5h3 M220,657.5h3 M226,657.5h3 M232,657.5h3 M238,657.5h3 M244,657.5h3 M250,657.5h3 M256,657.5h3 M262,657.5h3 M268,657.5h3 M274,657.5h3 M280,657.5h3 M286,657.5h3 M292,657.5h3 M298,657.5h3 M304,657.5h3 M310,657.5h3 M316,657.5h3 M322,657.5h3 M328,657.5h3 M334,657.5h3 M340,657.5h3 M346,657.5h3 M352,657.5h3 M358,657.5h3 M364,657.5h3 M370,657.5h3 M376,657.5h3 M382,657.5h3 M388,657.5h3 M394,657.5h3 M400,657.5h3 M406,657.5h3 M412,657.5h3 M418,657.5h3 M424,657.5h3 M430,657.5h3 M436,657.5h3 M442,657.5h3 M448,657.5h3 M454,657.5h3 M460,657.5h3 M466,657.5h3 M472,657.5h3 M478,657.5h3 M484,657.5h3 M490,657.5h3 M496,657.5h3 M502,657.5h3 M508,657.5h3 M514,657.5h3 M520,657.5h3 M526,657.5h3 M532,657.5h3 M538,657.5h3 M544,657.5h3 M550,657.5h3 M556,657.5h3 M562,657.5h3 M568,657.5h3 M574,657.5h3 M580,657.5h3 M586,657.5h3 M592,657.5h3 M598,657.5h3 M604,657.5h3 M610,657.5h3 M616,657.5h3 M622,657.5h3 M628,657.5h3 M634,657.5h3 M640,657.5h3 M646,657.5h3 M652,657.5h3 M658,657.5h3 M664,657.5h3 M670,657.5h3 M676,657.5h3 M682,657.5h3 M688,657.5h3 M694,657.5h3 M700,657.5h3 M706,657.5h3 M712,657.5h3 M718,657.5h3 M724,657.5h3 M730,657.5h3 M736,657.5h3 M742,657.5h3 M748,657.5h3 M754,657.5h3 M760,657.5h3 M766,657.5h3 M772,657.5h3 M778,657.5h3 M784,657.5h3 M790,657.5h3 M796,657.5h3 M802,657.5h3 M808,657.5h3 M814,657.5h3 M820,657.5h3 M826,657.5h3 M832,657.5h3 M838,657.5h3 M844,657.5h3 M850,657.5h3 M856,657.5h3 M862,657.5h3 M868,657.5h3 M874,657.5h3 M880,657.5h3 M886,657.5h3 M892,657.5h3 M898,657.5h3 M904,657.5h3 M910,657.5h3 M916,657.5h3 M922,657.5h3 M928,657.5h3 M934,657.5h3 M940,657.5h3 M946,657.5h3 M952,657.5h3 M958,657.5h3 M964,657.5h3 M970,657.5h3 M976,657.5h3 M982,657.5h3 M988,657.5h3 M994,657.5h3 M1000,657.5h3 M1006,657.5h3 M1012,657.5h3 M1018,657.5h3 M1024,657.5h3 M1030,657.5h3 M1036,657.5h3 M1042,657.5h3 M1048,657.5h3 M1054,657.5h3 M1060,657.5h3 M1066,657.5h3 M1072,657.5h3 M1078,657.5h3 M1084,657.5h3 M1090,657.5h3 M1096,657.5h3 M1102,657.5h3 M1108,657.5h3 M1114,657.5h3 M1120,657.5h3 M1126,657.5h3 M1132,657.5h3 M1138,657.5h3 M1144,657.5h3 M1150,657.5h3 M1156,657.5h3 M1162,657.5h3 M1168,657.5h3 M1174,657.5h3 M1180,657.5h3 M1186,657.5h3 M1192,657.5h3 M1198,657.5h3 M1204,657.5h3 M1210,657.5h3 M1216,657.5h3 M1222,657.5h3 M1228,657.5h3 M1234,657.5h3 M1240,657.5h3 M1246,657.5h3 M1252,657.5h3 M1258,657.5h3 M1264,657.5h3 M1270,657.5h3 M1276,657.5h3 M1282,657.5h3 M1288,657.5h3 M1294,657.5h3 M1300,657.5h3 M1306,657.5h3 M1312,657.5h3 M1318,657.5h3 M1324,657.5h3 M1330,657.5h3 M1336,657.5h3 M1342,657.5h3 M1348,657.5h3 M1354,657.5h3 M1360,657.5h3 M1366,657.5h3 M1372,657.5h3 M1378,657.5h3 M1384,657.5h3 M1390,657.5h3 M1396,657.5h3 M1402,657.5h3 M1408,657.5h3 M1414,657.5h3 M1420,657.5h3 M1426,657.5h3 M1432,657.5h3 M1438,657.5h3 M1444,657.5h3 M1450,657.5h3 M1456,657.5h3 M1462,657.5h3 M1468,657.5h3 M1474,657.5h3 M1480,657.5h3 M1486,657.5h3 M1492,657.5h3 M1498,657.5h3 M1504,657.5h3 M1510,657.5h2" stroke="#c0c0c0" stroke-width="1" fill="none" shape-rendering="crispEdges"/>
<path d="M3.5,621.69 L11.5,626.19 L19.5,626.36 L27.5,631.37 L35.5,635.04 L43.5,640.05 L51.5,642.55 L59.5,643.89 L67.5,645.89 L75.5,648.39 L83.5,649.23 L91.5,650.42 L99.5,651.23 L107.5,652.68 L115.5,653.40 L123.5,653.40 L131.5,653.48 L139.5,653.64 L147.5,654.57 L155.5,654.57 L163.5,656.23 L171.5,655.07 L179.5,654.40 L187.5,654.40 L195.5,654.57 L203.5,656.40 L211.5,657.24 L219.5,658.40 L227.5,659.24 L235.5,658.63 L243.5,657.24 L251.5,657.24 L259.5,655.07 L267.5,653.40 L275.5,653.15 L283.5,651.73 L291.5,650.39 L299.5,650.14 L307.5,648.72 L315.5,647.56 L323.5,647.40 L331.5,647.22 L339.5,646.22 L347.5,646.35 L355.5,647.56 L363.5,647.32 L371.5,646.55 L379.5,645.05 L387.5,642.55 L395.5,639.55 L403.5,639.45 L411.5,639.35 L419.5,639.25 L427.5,638.41 L435.5,638.47 L443.5,638.54 L451.5,638.61 L459.5,638.67 L467.5,639.55 L475.5,639.40 L483.5,639.27 L491.5,638.38 L499.5,638.12 L507.5,637.21 L515.5,638.21 L523.5,639.58 L531.5,640.64 L539.5,641.21 L547.5,640.46 L555.5,639.69 L563.5,637.88 L571.5,635.54 L579.5,633.04 L587.5,628.36 L595.5,626.19 L603.5,623.36 L611.5,622.86 L619.5,621.19 L627.5,621.19 L635.5,621.19 L643.5,620.35 L651.5,620.35 L659.5,621.19 L667.5,621.19 L675.5,621.19 L683.5,621.19 L691.5,621.19 L699.5,622.19 L707.5,622.64 L715.5,622.55 L723.5,622.19 L731.5,621.85 L739.5,621.19 L747.5,624.19 L755.5,625.36 L763.5,626.24 L771.5,626.19 L779.5,630.37 L787.5,630.37 L795.5,633.37 L803.5,635.04 L811.5,636.21 L819.5,638.38 L827.5,638.38 L835.5,639.55 L843.5,640.67 L851.5,641.62 L859.5,642.55 L867.5,641.21 L875.5,642.55 L883.5,641.21 L891.5,641.21 L899.5,640.38 L907.5,639.37 L915.5,638.38 L923.5,639.55 L931.5,640.55 L939.5,640.55 L947.5,641.38 L955.5,640.51 L963.5,639.07 L971.5,638.38 L979.5,638.38 L987.5,640.55 L995.5,640.55 L1003.5,641.38 L1011.5,641.38 L1019.5,641.38 L1027.5,642.55 L1035.5,642.55 L1043.5,643.38 L1051.5,643.38 L1059.5,643.38 L1067.5,645.28 L1075.5,647.56 L1083.5,647.56 L1091.5,647.56 L1099.5,647.56 L1107.5,646.39 L1115.5,644.91 L1123.5,643.38 L1131.5,642.22 L1139.5,642.22 L1147.5,641.21 L1155.5,640.55 L1163.5,640.05 L1171.5,640.05 L1179.5,640.05 L1187.5,640.05 L1195.5,640.05 L1203.5,639.21 L1211.5,639.21 L1219.5,639.21 L1227.5,639.21 L1235.5,640.05 L1243.5,640.05 L1251.5,640.05 L1259.5,640.05 L1267.5,639.28 L1275.5,639.44 L1283.5,639.55 L1291.5,641.38 L1299.5,640.05 L1307.5,640.88 L1315.5,642.58 L1323.5,643.86 L1331.5,645.45 L1339.5,647.06 L1347.5,648.39 L1355.5,649.73 L1363.5,651.40 L1371.5,651.40 L1379.5,650.89 L1387.5,649.23 L1395.5,648.20 L1403.5,647.48 L1411.5,647.22 L1419.5,646.22 L1427.5,647.56 L1435.5,646.72 L1443.5,645.54 L1451.5,644.64 L1459.5,643.40 L1467.5,642.05 L1475.5,641.22 L1483.5,640.38 L1491.5,640.38" fill="none" stroke="#000080" stroke-width="1" clip-path="url(#cr)" shape-rendering="crispEdges"/>
<path d="M3.5,621.36 L11.5,642.05 L19.5,630.37 L27.5,648.72 L35.5,652.23 L43.5,653.40 L51.5,653.40 L59.5,654.23 L67.5,654.23 L75.5,654.23 L83.5,654.23 L91.5,656.40 L99.5,653.40 L107.5,654.73 L115.5,657.40 L123.5,653.73 L131.5,654.25 L139.5,654.80 L147.5,655.07 L155.5,657.40 L163.5,661.24 L171.5,651.73 L179.5,650.06 L187.5,653.40 L195.5,655.90 L203.5,662.08 L211.5,662.41 L219.5,663.41 L227.5,663.41 L235.5,655.90 L243.5,653.40 L251.5,654.23 L259.5,648.06 L267.5,647.56 L275.5,649.23 L283.5,647.06 L291.5,645.39 L299.5,648.39 L307.5,643.38 L315.5,643.38 L323.5,643.38 L331.5,646.22 L339.5,644.39 L347.5,645.01 L355.5,648.72 L363.5,650.39 L371.5,640.88 L379.5,639.21 L387.5,630.37 L395.5,630.37 L403.5,640.05 L411.5,636.38 L419.5,637.54 L427.5,637.54 L435.5,637.54 L443.5,637.54 L451.5,637.54 L459.5,639.21 L467.5,643.38 L475.5,640.05 L483.5,639.21 L491.5,635.87 L499.5,634.54 L507.5,636.29 L515.5,640.88 L523.5,644.22 L531.5,644.22 L539.5,643.05 L547.5,635.87 L555.5,634.54 L563.5,636.21 L571.5,625.86 L579.5,617.02 L587.5,615.51 L595.5,617.02 L603.5,613.34 L611.5,619.19 L619.5,616.35 L627.5,621.02 L635.5,619.69 L643.5,619.69 L651.5,619.69 L659.5,624.19 L667.5,622.52 L675.5,621.19 L683.5,621.19 L691.5,621.19 L699.5,623.02 L707.5,626.19 L715.5,623.36 L723.5,620.85 L731.5,624.19 L739.5,617.52 L747.5,633.37 L755.5,630.87 L763.5,629.20 L771.5,626.36 L779.5,645.39 L787.5,633.70 L795.5,641.21 L803.5,641.21 L811.5,642.88 L819.5,644.22 L827.5,641.21 L835.5,642.88 L843.5,644.22 L851.5,644.22 L859.5,644.22 L867.5,642.05 L875.5,642.05 L883.5,639.71 L891.5,639.21 L899.5,637.54 L907.5,633.37 L915.5,636.71 L923.5,644.55 L931.5,641.72 L939.5,640.88 L947.5,645.39 L955.5,635.54 L963.5,638.38 L971.5,633.70 L979.5,640.88 L987.5,645.39 L995.5,639.55 L1003.5,644.22 L1011.5,644.22 L1019.5,643.38 L1027.5,645.05 L1035.5,644.22 L1043.5,644.22 L1051.5,642.55 L1059.5,645.05 L1067.5,651.40 L1075.5,653.40 L1083.5,650.66 L1091.5,648.39 L1099.5,647.22 L1107.5,642.55 L1115.5,641.21 L1123.5,633.37 L1131.5,641.72 L1139.5,638.38 L1147.5,638.38 L1155.5,637.21 L1163.5,641.38 L1171.5,638.38 L1179.5,639.55 L1187.5,639.81 L1195.5,639.21 L1203.5,636.71 L1211.5,637.21 L1219.5,637.88 L1227.5,640.05 L1235.5,644.55 L1243.5,640.88 L1251.5,641.38 L1259.5,637.21 L1267.5,635.37 L1275.5,639.55 L1283.5,642.05 L1291.5,646.22 L1299.5,639.55 L1307.5,646.22 L1315.5,646.22 L1323.5,648.06 L1331.5,649.23 L1339.5,654.23 L1347.5,655.40 L1355.5,654.23 L1363.5,659.24 L1371.5,653.03 L1379.5,647.50 L1387.5,643.38 L1395.5,643.38 L1403.5,645.05 L1411.5,645.20 L1419.5,645.39 L1427.5,648.72 L1435.5,644.55 L1443.5,639.21 L1451.5,643.72 L1459.5,639.71 L1467.5,635.54 L1475.5,638.38 L1483.5,639.55 L1491.5,638.38" fill="none" stroke="#ff0000" stroke-width="1" clip-path="url(#cr)" shape-rendering="crispEdges"/>
<path d="M4,710.5h3 M10,710.5h3 M16,710.5h3 M22,710.5h3 M28,710.5h3 M34,710.5h3 M40,710.5h3 M46,710.5h3 M52,710.5h3 M58,710.5h3 M64,710.5h3 M70,710.5h3 M76,710.5h3 M82,710.5h3 M88,710.5h3 M94,710.5h3 M100,710.5h3 M106,710.5h3 M112,710.5h3 M118,710.5h3 M124,710.5h3 M130,710.5h3 M136,710.5h3 M142,710.5h3 M148,710.5h3 M154,710.5h3 M160,710.5h3 M166,710.5h3 M172,710.5h3 M178,710.5h3 M184,710.5h3 M190,710.5h3 M196,710.5h3 M202,710.5h3 M208,710.5h3 M214,710.5h3 M220,710.5h3 M226,710.5h3 M232,710.5h3 M238,710.5h3 M244,710.5h3 M250,710.5h3 M256,710.5h3 M262,710.5h3 M268,710.5h3 M274,710.5h3 M280,710.5h3 M286,710.5h3 M292,710.5h3 M298,710.5h3 M304,710.5h3 M310,710.5h3 M316,710.5h3 M322,710.5h3 M328,710.5h3 M334,710.5h3 M340,710.5h3 M346,710.5h3 M352,710.5h3 M358,710.5h3 M364,710.5h3 M370,710.5h3 M376,710.5h3 M382,710.5h3 M388,710.5h3 M394,710.5h3 M400,710.5h3 M406,710.5h3 M412,710.5h3 M418,710.5h3 M424,710.5h3 M430,710.5h3 M436,710.5h3 M442,710.5h3 M448,710.5h3 M454,710.5h3 M460,710.5h3 M466,710.5h3 M472,710.5h3 M478,710.5h3 M484,710.5h3 M490,710.5h3 M496,710.5h3 M502,710.5h3 M508,710.5h3 M514,710.5h3 M520,710.5h3 M526,710.5h3 M532,710.5h3 M538,710.5h3 M544,710.5h3 M550,710.5h3 M556,710.5h3 M562,710.5h3 M568,710.5h3 M574,710.5h3 M580,710.5h3 M586,710.5h3 M592,710.5h3 M598,710.5h3 M604,710.5h3 M610,710.5h3 M616,710.5h3 M622,710.5h3 M628,710.5h3 M634,710.5h3 M640,710.5h3 M646,710.5h3 M652,710.5h3 M658,710.5h3 M664,710.5h3 M670,710.5h3 M676,710.5h3 M682,710.5h3 M688,710.5h3 M694,710.5h3 M700,710.5h3 M706,710.5h3 M712,710.5h3 M718,710.5h3 M724,710.5h3 M730,710.5h3 M736,710.5h3 M742,710.5h3 M748,710.5h3 M754,710.5h3 M760,710.5h3 M766,710.5h3 M772,710.5h3 M778,710.5h3 M784,710.5h3 M790,710.5h3 M796,710.5h3 M802,710.5h3 M808,710.5h3 M814,710.5h3 M820,710.5h3 M826,710.5h3 M832,710.5h3 M838,710.5h3 M844,710.5h3 M850,710.5h3 M856,710.5h3 M862,710.5h3 M868,710.5h3 M874,710.5h3 M880,710.5h3 M886,710.5h3 M892,710.5h3 M898,710.5h3 M904,710.5h3 M910,710.5h3 M916,710.5h3 M922,710.5h3 M928,710.5h3 M934,710.5h3 M940,710.5h3 M946,710.5h3 M952,710.5h3 M958,710.5h3 M964,710.5h3 M970,710.5h3 M976,710.5h3 M982,710.5h3 M988,710.5h3 M994,710.5h3 M1000,710.5h3 M1006,710.5h3 M1012,710.5h3 M1018,710.5h3 M1024,710.5h3 M1030,710.5h3 M1036,710.5h3 M1042,710.5h3 M1048,710.5h3 M1054,710.5h3 M1060,710.5h3 M1066,710.5h3 M1072,710.5h3 M1078,710.5h3 M1084,710.5h3 M1090,710.5h3 M1096,710.5h3 M1102,710.5h3 M1108,710.5h3 M1114,710.5h3 M1120,710.5h3 M1126,710.5h3 M1132,710.5h3 M1138,710.5h3 M1144,710.5h3 M1150,710.5h3 M1156,710.5h3 M1162,710.5h3 M1168,710.5h3 M1174,710.5h3 M1180,710.5h3 M1186,710.5h3 M1192,710.5h3 M1198,710.5h3 M1204,710.5h3 M1210,710.5h3 M1216,710.5h3 M1222,710.5h3 M1228,710.5h3 M1234,710.5h3 M1240,710.5h3 M1246,710.5h3 M1252,710.5h3 M1258,710.5h3 M1264,710.5h3 M1270,710.5h3 M1276,710.5h3 M1282,710.5h3 M1288,710.5h3 M1294,710.5h3 M1300,710.5h3 M1306,710.5h3 M1312,710.5h3 M1318,710.5h3 M1324,710.5h3 M1330,710.5h3 M1336,710.5h3 M1342,710.5h3 M1348,710.5h3 M1354,710.5h3 M1360,710.5h3 M1366,710.5h3 M1372,710.5h3 M1378,710.5h3 M1384,710.5h3 M1390,710.5h3 M1396,710.5h3 M1402,710.5h3 M1408,710.5h3 M1414,710.5h3 M1420,710.5h3 M1426,710.5h3 M1432,710.5h3 M1438,710.5h3 M1444,710.5h3 M1450,710.5h3 M1456,710.5h3 M1462,710.5h3 M1468,710.5h3 M1474,710.5h3 M1480,710.5h3 M1486,710.5h3 M1492,710.5h3 M1498,710.5h3 M1504,710.5h3 M1510,710.5h2" stroke="#c0c0c0" stroke-width="1" fill="none" shape-rendering="crispEdges"/>
<path d="M4,770.5h3 M10,770.5h3 M16,770.5h3 M22,770.5h3 M28,770.5h3 M34,770.5h3 M40,770.5h3 M46,770.5h3 M52,770.5h3 M58,770.5h3 M64,770.5h3 M70,770.5h3 M76,770.5h3 M82,770.5h3 M88,770.5h3 M94,770.5h3 M100,770.5h3 M106,770.5h3 M112,770.5h3 M118,770.5h3 M124,770.5h3 M130,770.5h3 M136,770.5h3 M142,770.5h3 M148,770.5h3 M154,770.5h3 M160,770.5h3 M166,770.5h3 M172,770.5h3 M178,770.5h3 M184,770.5h3 M190,770.5h3 M196,770.5h3 M202,770.5h3 M208,770.5h3 M214,770.5h3 M220,770.5h3 M226,770.5h3 M232,770.5h3 M238,770.5h3 M244,770.5h3 M250,770.5h3 M256,770.5h3 M262,770.5h3 M268,770.5h3 M274,770.5h3 M280,770.5h3 M286,770.5h3 M292,770.5h3 M298,770.5h3 M304,770.5h3 M310,770.5h3 M316,770.5h3 M322,770.5h3 M328,770.5h3 M334,770.5h3 M340,770.5h3 M346,770.5h3 M352,770.5h3 M358,770.5h3 M364,770.5h3 M370,770.5h3 M376,770.5h3 M382,770.5h3 M388,770.5h3 M394,770.5h3 M400,770.5h3 M406,770.5h3 M412,770.5h3 M418,770.5h3 M424,770.5h3 M430,770.5h3 M436,770.5h3 M442,770.5h3 M448,770.5h3 M454,770.5h3 M460,770.5h3 M466,770.5h3 M472,770.5h3 M478,770.5h3 M484,770.5h3 M490,770.5h3 M496,770.5h3 M502,770.5h3 M508,770.5h3 M514,770.5h3 M520,770.5h3 M526,770.5h3 M532,770.5h3 M538,770.5h3 M544,770.5h3 M550,770.5h3 M556,770.5h3 M562,770.5h3 M568,770.5h3 M574,770.5h3 M580,770.5h3 M586,770.5h3 M592,770.5h3 M598,770.5h3 M604,770.5h3 M610,770.5h3 M616,770.5h3 M622,770.5h3 M628,770.5h3 M634,770.5h3 M640,770.5h3 M646,770.5h3 M652,770.5h3 M658,770.5h3 M664,770.5h3 M670,770.5h3 M676,770.5h3 M682,770.5h3 M688,770.5h3 M694,770.5h3 M700,770.5h3 M706,770.5h3 M712,770.5h3 M718,770.5h3 M724,770.5h3 M730,770.5h3 M736,770.5h3 M742,770.5h3 M748,770.5h3 M754,770.5h3 M760,770.5h3 M766,770.5h3 M772,770.5h3 M778,770.5h3 M784,770.5h3 M790,770.5h3 M796,770.5h3 M802,770.5h3 M808,770.5h3 M814,770.5h3 M820,770.5h3 M826,770.5h3 M832,770.5h3 M838,770.5h3 M844,770.5h3 M850,770.5h3 M856,770.5h3 M862,770.5h3 M868,770.5h3 M874,770.5h3 M880,770.5h3 M886,770.5h3 M892,770.5h3 M898,770.5h3 M904,770.5h3 M910,770.5h3 M916,770.5h3 M922,770.5h3 M928,770.5h3 M934,770.5h3 M940,770.5h3 M946,770.5h3 M952,770.5h3 M958,770.5h3 M964,770.5h3 M970,770.5h3 M976,770.5h3 M982,770.5h3 M988,770.5h3 M994,770.5h3 M1000,770.5h3 M1006,770.5h3 M1012,770.5h3 M1018,770.5h3 M1024,770.5h3 M1030,770.5h3 M1036,770.5h3 M1042,770.5h3 M1048,770.5h3 M1054,770.5h3 M1060,770.5h3 M1066,770.5h3 M1072,770.5h3 M1078,770.5h3 M1084,770.5h3 M1090,770.5h3 M1096,770.5h3 M1102,770.5h3 M1108,770.5h3 M1114,770.5h3 M1120,770.5h3 M1126,770.5h3 M1132,770.5h3 M1138,770.5h3 M1144,770.5h3 M1150,770.5h3 M1156,770.5h3 M1162,770.5h3 M1168,770.5h3 M1174,770.5h3 M1180,770.5h3 M1186,770.5h3 M1192,770.5h3 M1198,770.5h3 M1204,770.5h3 M1210,770.5h3 M1216,770.5h3 M1222,770.5h3 M1228,770.5h3 M1234,770.5h3 M1240,770.5h3 M1246,770.5h3 M1252,770.5h3 M1258,770.5h3 M1264,770.5h3 M1270,770.5h3 M1276,770.5h3 M1282,770.5h3 M1288,770.5h3 M1294,770.5h3 M1300,770.5h3 M1306,770.5h3 M1312,770.5h3 M1318,770.5h3 M1324,770.5h3 M1330,770.5h3 M1336,770.5h3 M1342,770.5h3 M1348,770.5h3 M1354,770.5h3 M1360,770.5h3 M1366,770.5h3 M1372,770.5h3 M1378,770.5h3 M1384,770.5h3 M1390,770.5h3 M1396,770.5h3 M1402,770.5h3 M1408,770.5h3 M1414,770.5h3 M1420,770.5h3 M1426,770.5h3 M1432,770.5h3 M1438,770.5h3 M1444,770.5h3 M1450,770.5h3 M1456,770.5h3 M1462,770.5h3 M1468,770.5h3 M1474,770.5h3 M1480,770.5h3 M1486,770.5h3 M1492,770.5h3 M1498,770.5h3 M1504,770.5h3 M1510,770.5h2" stroke="#c0c0c0" stroke-width="1" fill="none" shape-rendering="crispEdges"/>
<path d="M3.5,704.18 L11.5,716.70 L19.5,731.72 L27.5,748.40 L35.5,757.58 L43.5,772.56 L51.5,781.85 L59.5,786.79 L67.5,786.79 L75.5,781.78 L83.5,777.50 L91.5,772.60 L99.5,770.10 L107.5,771.13 L115.5,772.60 L123.5,773.12 L131.5,772.92 L139.5,770.74 L147.5,767.91 L155.5,765.16 L163.5,761.75 L171.5,758.42 L179.5,750.07 L187.5,738.39 L195.5,732.55 L203.5,741.73 L211.5,755.08 L219.5,771.77 L227.5,775.94 L235.5,770.10 L243.5,758.42 L251.5,745.07 L259.5,723.37 L267.5,711.69 L275.5,705.85 L283.5,707.21 L291.5,714.84 L299.5,723.37 L307.5,729.71 L315.5,732.55 L323.5,728.38 L331.5,728.38 L339.5,730.05 L347.5,745.07 L355.5,756.75 L363.5,764.26 L371.5,764.26 L379.5,758.42 L387.5,734.68 L395.5,718.36 L403.5,706.68 L411.5,715.03 L419.5,728.38 L427.5,738.39 L435.5,742.56 L443.5,738.72 L451.5,732.55 L459.5,729.21 L467.5,734.22 L475.5,740.06 L483.5,745.07 L491.5,738.39 L499.5,726.71 L507.5,717.52 L515.5,718.36 L523.5,729.21 L531.5,748.40 L539.5,759.25 L547.5,755.08 L555.5,739.23 L563.5,721.70 L571.5,710.02 L579.5,702.51 L587.5,700.01 L595.5,700.84 L603.5,699.67 L611.5,702.51 L619.5,702.51 L627.5,709.46 L635.5,716.70 L643.5,727.54 L651.5,735.05 L659.5,744.23 L667.5,750.07 L675.5,753.74 L683.5,745.07 L691.5,730.05 L699.5,716.70 L707.5,720.87 L715.5,724.07 L723.5,725.56 L731.5,725.04 L739.5,720.87 L747.5,729.21 L755.5,734.22 L763.5,749.24 L771.5,748.40 L779.5,752.58 L787.5,748.74 L795.5,754.25 L803.5,753.41 L811.5,761.76 L819.5,768.43 L827.5,772.10 L835.5,771.44 L843.5,766.76 L851.5,761.76 L859.5,759.31 L867.5,753.77 L875.5,748.40 L883.5,731.38 L891.5,718.36 L899.5,713.78 L907.5,709.18 L915.5,711.29 L923.5,722.30 L931.5,739.94 L939.5,757.63 L947.5,767.60 L955.5,763.09 L963.5,759.25 L971.5,736.72 L979.5,727.04 L987.5,727.54 L995.5,742.56 L1003.5,758.42 L1011.5,765.09 L1019.5,768.43 L1027.5,769.35 L1035.5,769.39 L1043.5,768.77 L1051.5,762.59 L1059.5,756.75 L1067.5,757.58 L1075.5,770.04 L1083.5,775.84 L1091.5,773.23 L1099.5,768.43 L1107.5,750.33 L1115.5,734.74 L1123.5,720.03 L1131.5,717.71 L1139.5,720.03 L1147.5,735.06 L1155.5,739.70 L1163.5,742.06 L1171.5,742.82 L1179.5,744.09 L1187.5,747.63 L1195.5,751.74 L1203.5,750.07 L1211.5,745.90 L1219.5,737.56 L1227.5,734.22 L1235.5,739.23 L1243.5,749.74 L1251.5,750.07 L1259.5,740.06 L1267.5,728.38 L1275.5,718.36 L1283.5,723.37 L1291.5,739.23 L1299.5,756.75 L1307.5,769.77 L1315.5,767.60 L1323.5,768.43 L1331.5,766.43 L1339.5,769.77 L1347.5,774.04 L1355.5,776.59 L1363.5,776.78 L1371.5,773.44 L1379.5,766.76 L1387.5,750.07 L1395.5,738.39 L1403.5,721.70 L1411.5,715.36 L1419.5,720.03 L1427.5,729.12 L1435.5,737.22 L1443.5,738.28 L1451.5,733.02 L1459.5,724.21 L1467.5,723.37 L1475.5,725.87 L1483.5,730.84 L1491.5,735.39" fill="none" stroke="#ff0000" stroke-width="1" stroke-dasharray="3 3" clip-path="url(#cs)" shape-rendering="crispEdges"/>
<path d="M3.5,710.02 L11.5,745.07 L19.5,742.56 L27.5,762.59 L35.5,768.43 L43.5,785.95 L51.5,788.12 L59.5,788.12 L67.5,785.62 L75.5,779.78 L83.5,768.43 L91.5,770.43 L99.5,769.27 L107.5,773.10 L115.5,774.27 L123.5,774.27 L131.5,772.76 L139.5,767.60 L147.5,768.43 L155.5,760.59 L163.5,760.59 L171.5,749.23 L179.5,737.04 L187.5,723.70 L195.5,737.56 L203.5,765.09 L211.5,779.28 L219.5,776.78 L227.5,772.60 L235.5,763.42 L243.5,745.07 L251.5,725.04 L259.5,703.68 L267.5,702.51 L275.5,703.68 L283.5,712.52 L291.5,721.70 L299.5,732.05 L307.5,733.05 L315.5,735.05 L323.5,717.53 L331.5,730.05 L339.5,742.56 L347.5,757.58 L355.5,761.76 L363.5,773.10 L371.5,756.75 L379.5,739.23 L387.5,703.01 L395.5,699.17 L403.5,713.32 L411.5,723.37 L419.5,745.07 L427.5,742.56 L435.5,741.40 L443.5,730.88 L451.5,726.21 L459.5,727.54 L467.5,747.24 L475.5,746.23 L483.5,744.73 L491.5,724.21 L499.5,713.36 L507.5,708.35 L515.5,725.04 L523.5,754.25 L531.5,766.43 L539.5,760.59 L547.5,740.06 L555.5,720.03 L563.5,705.01 L571.5,701.34 L579.5,701.34 L587.5,698.34 L595.5,701.34 L603.5,699.17 L611.5,705.35 L619.5,703.34 L627.5,720.87 L635.5,725.87 L643.5,739.23 L651.5,739.23 L659.5,753.41 L667.5,758.08 L675.5,753.41 L683.5,724.21 L691.5,714.69 L699.5,714.69 L707.5,728.38 L715.5,730.38 L723.5,719.70 L731.5,725.87 L739.5,718.36 L747.5,743.06 L755.5,746.74 L763.5,760.42 L771.5,741.40 L779.5,757.58 L787.5,747.57 L795.5,758.08 L803.5,753.91 L811.5,770.10 L819.5,774.61 L827.5,773.10 L835.5,768.43 L843.5,761.42 L851.5,760.09 L859.5,758.75 L867.5,744.73 L875.5,732.55 L883.5,715.86 L891.5,711.69 L899.5,707.52 L907.5,704.18 L915.5,715.03 L923.5,750.07 L931.5,765.09 L939.5,767.60 L947.5,771.44 L955.5,753.41 L963.5,743.40 L971.5,706.68 L979.5,726.71 L987.5,750.07 L995.5,761.42 L1003.5,767.10 L1011.5,765.43 L1019.5,771.44 L1027.5,769.94 L1035.5,767.60 L1043.5,768.43 L1051.5,749.24 L1059.5,752.58 L1067.5,771.77 L1075.5,785.12 L1083.5,778.44 L1091.5,768.43 L1099.5,752.58 L1107.5,736.72 L1115.5,725.04 L1123.5,705.85 L1131.5,724.21 L1139.5,733.38 L1147.5,749.24 L1155.5,737.56 L1163.5,744.23 L1171.5,743.40 L1179.5,750.07 L1187.5,749.24 L1195.5,755.91 L1203.5,749.24 L1211.5,736.72 L1219.5,727.54 L1227.5,735.89 L1235.5,755.08 L1243.5,752.58 L1251.5,745.90 L1259.5,723.37 L1267.5,712.52 L1275.5,717.53 L1283.5,736.72 L1291.5,772.10 L1299.5,769.27 L1307.5,772.10 L1315.5,761.42 L1323.5,770.10 L1331.5,767.10 L1339.5,775.94 L1347.5,779.28 L1355.5,777.11 L1363.5,777.94 L1371.5,768.43 L1379.5,754.25 L1387.5,730.05 L1395.5,715.86 L1403.5,712.19 L1411.5,715.36 L1419.5,725.04 L1427.5,743.40 L1435.5,748.91 L1443.5,735.05 L1451.5,719.70 L1459.5,722.54 L1467.5,726.71 L1475.5,727.54 L1483.5,735.02 L1491.5,744.23" fill="none" stroke="#20b2aa" stroke-width="1" clip-path="url(#cs)" shape-rendering="crispEdges"/>
<rect x="3" y="808" width="1" height="22" fill="#c0c0c0"/>
<rect x="11" y="809" width="1" height="21" fill="#c0c0c0"/>
<rect x="19" y="809" width="1" height="21" fill="#c0c0c0"/>
<rect x="27" y="818" width="1" height="12" fill="#c0c0c0"/>
<rect x="35" y="827" width="1" height="3" fill="#c0c0c0"/>
<rect x="43" y="829" width="1" height="5" fill="#c0c0c0"/>
<rect x="51" y="829" width="1" height="11" fill="#c0c0c0"/>
<rect x="59" y="829" width="1" height="16" fill="#c0c0c0"/>
<rect x="67" y="829" width="1" height="20" fill="#c0c0c0"/>
<rect x="75" y="829" width="1" height="23" fill="#c0c0c0"/>
<rect x="83" y="829" width="1" height="26" fill="#c0c0c0"/>
<rect x="91" y="829" width="1" height="28" fill="#c0c0c0"/>
<rect x="99" y="829" width="1" height="29" fill="#c0c0c0"/>
<rect x="107" y="829" width="1" height="30" fill="#c0c0c0"/>
<rect x="115" y="829" width="1" height="31" fill="#c0c0c0"/>
<rect x="123" y="829" width="1" height="31" fill="#c0c0c0"/>
<rect x="131" y="829" width="1" height="32" fill="#c0c0c0"/>
<rect x="139" y="829" width="1" height="32" fill="#c0c0c0"/>
<rect x="147" y="829" width="1" height="31" fill="#c0c0c0"/>
<rect x="155" y="829" width="1" height="31" fill="#c0c0c0"/>
<rect x="163" y="829" width="1" height="32" fill="#c0c0c0"/>
<rect x="171" y="829" width="1" height="32" fill="#c0c0c0"/>
<rect x="179" y="829" width="1" height="31" fill="#c0c0c0"/>
<rect x="187" y="829" width="1" height="31" fill="#c0c0c0"/>
<rect x="195" y="829" width="1" height="33" fill="#c0c0c0"/>
<rect x="203" y="829" width="1" height="35" fill="#c0c0c0"/>
<rect x="211" y="829" width="1" height="38" fill="#c0c0c0"/>
<rect x="219" y="829" width="1" height="39" fill="#c0c0c0"/>
<rect x="227" y="829" width="1" height="41" fill="#c0c0c0"/>
<rect x="235" y="829" width="1" height="41" fill="#c0c0c0"/>
<rect x="243" y="829" width="1" height="39" fill="#c0c0c0"/>
<rect x="251" y="829" width="1" height="37" fill="#c0c0c0"/>
<rect x="259" y="829" width="1" height="34" fill="#c0c0c0"/>
<rect x="267" y="829" width="1" height="32" fill="#c0c0c0"/>
<rect x="275" y="829" width="1" height="30" fill="#c0c0c0"/>
<rect x="283" y="829" width="1" height="28" fill="#c0c0c0"/>
<rect x="291" y="829" width="1" height="25" fill="#c0c0c0"/>
<rect x="299" y="829" width="1" height="24" fill="#c0c0c0"/>
<rect x="307" y="829" width="1" height="21" fill="#c0c0c0"/>
<rect x="315" y="829" width="1" height="19" fill="#c0c0c0"/>
<rect x="323" y="829" width="1" height="17" fill="#c0c0c0"/>
<rect x="331" y="829" width="1" height="16" fill="#c0c0c0"/>
<rect x="339" y="829" width="1" height="15" fill="#c0c0c0"/>
<rect x="347" y="829" width="1" height="14" fill="#c0c0c0"/>
<rect x="355" y="829" width="1" height="14" fill="#c0c0c0"/>
<rect x="363" y="829" width="1" height="14" fill="#c0c0c0"/>
<rect x="371" y="829" width="1" height="13" fill="#c0c0c0"/>
<rect x="379" y="829" width="1" height="11" fill="#c0c0c0"/>
<rect x="387" y="829" width="1" height="6" fill="#c0c0c0"/>
<rect x="395" y="829" width="1" height="3" fill="#c0c0c0"/>
<rect x="403" y="829" width="1" height="3" fill="#c0c0c0"/>
<rect x="411" y="829" width="1" height="2" fill="#c0c0c0"/>
<rect x="419" y="829" width="1" height="1" fill="#c0c0c0"/>
<rect x="427" y="829" width="1" height="1" fill="#c0c0c0"/>
<rect x="451" y="829" width="1" height="1" fill="#c0c0c0"/>
<rect x="459" y="829" width="1" height="1" fill="#c0c0c0"/>
<rect x="571" y="826" width="1" height="4" fill="#c0c0c0"/>
<rect x="579" y="821" width="1" height="9" fill="#c0c0c0"/>
<rect x="587" y="816" width="1" height="14" fill="#c0c0c0"/>
<rect x="595" y="813" width="1" height="17" fill="#c0c0c0"/>
<rect x="603" y="808" width="1" height="22" fill="#c0c0c0"/>
<rect x="611" y="806" width="1" height="24" fill="#c0c0c0"/>
<rect x="619" y="803" width="1" height="27" fill="#c0c0c0"/>
<rect x="627" y="801" width="1" height="29" fill="#c0c0c0"/>
<rect x="635" y="800" width="1" height="30" fill="#c0c0c0"/>
<rect x="643" y="799" width="1" height="31" fill="#c0c0c0"/>
<rect x="651" y="799" width="1" height="31" fill="#c0c0c0"/>
<rect x="659" y="800" width="1" height="30" fill="#c0c0c0"/>
<rect x="667" y="801" width="1" height="29" fill="#c0c0c0"/>
<rect x="675" y="801" width="1" height="29" fill="#c0c0c0"/>
<rect x="683" y="801" width="1" height="29" fill="#c0c0c0"/>
<rect x="691" y="802" width="1" height="28" fill="#c0c0c0"/>
<rect x="699" y="803" width="1" height="27" fill="#c0c0c0"/>
<rect x="707" y="805" width="1" height="25" fill="#c0c0c0"/>
<rect x="715" y="806" width="1" height="24" fill="#c0c0c0"/>
<rect x="723" y="805" width="1" height="25" fill="#c0c0c0"/>
<rect x="731" y="806" width="1" height="24" fill="#c0c0c0"/>
<rect x="739" y="805" width="1" height="25" fill="#c0c0c0"/>
<rect x="747" y="807" width="1" height="23" fill="#c0c0c0"/>
<rect x="755" y="808" width="1" height="22" fill="#c0c0c0"/>
<rect x="763" y="809" width="1" height="21" fill="#c0c0c0"/>
<rect x="771" y="809" width="1" height="21" fill="#c0c0c0"/>
<rect x="779" y="815" width="1" height="15" fill="#c0c0c0"/>
<rect x="787" y="814" width="1" height="16" fill="#c0c0c0"/>
<rect x="795" y="818" width="1" height="12" fill="#c0c0c0"/>
<rect x="803" y="822" width="1" height="8" fill="#c0c0c0"/>
<rect x="811" y="825" width="1" height="5" fill="#c0c0c0"/>
<rect x="819" y="828" width="1" height="2" fill="#c0c0c0"/>
<rect x="843" y="829" width="1" height="3" fill="#c0c0c0"/>
<rect x="851" y="829" width="1" height="5" fill="#c0c0c0"/>
<rect x="859" y="829" width="1" height="6" fill="#c0c0c0"/>
<rect x="867" y="829" width="1" height="6" fill="#c0c0c0"/>
<rect x="875" y="829" width="1" height="6" fill="#c0c0c0"/>
<rect x="883" y="829" width="1" height="5" fill="#c0c0c0"/>
<rect x="891" y="829" width="1" height="4" fill="#c0c0c0"/>
<rect x="899" y="829" width="1" height="3" fill="#c0c0c0"/>
<rect x="915" y="829" width="1" height="1" fill="#c0c0c0"/>
<rect x="923" y="829" width="1" height="2" fill="#c0c0c0"/>
<rect x="931" y="829" width="1" height="2" fill="#c0c0c0"/>
<rect x="939" y="829" width="1" height="3" fill="#c0c0c0"/>
<rect x="947" y="829" width="1" height="3" fill="#c0c0c0"/>
<rect x="955" y="829" width="1" height="2" fill="#c0c0c0"/>
<rect x="963" y="829" width="1" height="2" fill="#c0c0c0"/>
<rect x="971" y="829" width="1" height="1" fill="#c0c0c0"/>
<rect x="979" y="829" width="1" height="2" fill="#c0c0c0"/>
<rect x="987" y="829" width="1" height="3" fill="#c0c0c0"/>
<rect x="995" y="829" width="1" height="3" fill="#c0c0c0"/>
<rect x="1003" y="829" width="1" height="5" fill="#c0c0c0"/>
<rect x="1011" y="829" width="1" height="6" fill="#c0c0c0"/>
<rect x="1019" y="829" width="1" height="7" fill="#c0c0c0"/>
<rect x="1027" y="829" width="1" height="7" fill="#c0c0c0"/>
<rect x="1035" y="829" width="1" height="9" fill="#c0c0c0"/>
<rect x="1043" y="829" width="1" height="9" fill="#c0c0c0"/>
<rect x="1051" y="829" width="1" height="9" fill="#c0c0c0"/>
<rect x="1059" y="829" width="1" height="10" fill="#c0c0c0"/>
<rect x="1067" y="829" width="1" height="13" fill="#c0c0c0"/>
<rect x="1075" y="829" width="1" height="16" fill="#c0c0c0"/>
<rect x="1083" y="829" width="1" height="17" fill="#c0c0c0"/>
<rect x="1091" y="829" width="1" height="17" fill="#c0c0c0"/>
<rect x="1099" y="829" width="1" height="17" fill="#c0c0c0"/>
<rect x="1107" y="829" width="1" height="14" fill="#c0c0c0"/>
<rect x="1115" y="829" width="1" height="14" fill="#c0c0c0"/>
<rect x="1123" y="829" width="1" height="10" fill="#c0c0c0"/>
<rect x="1131" y="829" width="1" height="9" fill="#c0c0c0"/>
<rect x="1139" y="829" width="1" height="8" fill="#c0c0c0"/>
<rect x="1147" y="829" width="1" height="6" fill="#c0c0c0"/>
<rect x="1155" y="829" width="1" height="5" fill="#c0c0c0"/>
<rect x="1163" y="829" width="1" height="5" fill="#c0c0c0"/>
<rect x="1171" y="829" width="1" height="4" fill="#c0c0c0"/>
<rect x="1179" y="829" width="1" height="3" fill="#c0c0c0"/>
<rect x="1187" y="829" width="1" height="3" fill="#c0c0c0"/>
<rect x="1195" y="829" width="1" height="3" fill="#c0c0c0"/>
<rect x="1227" y="829" width="1" height="1" fill="#c0c0c0"/>
<rect x="1235" y="829" width="1" height="2" fill="#c0c0c0"/>
<rect x="1243" y="829" width="1" height="2" fill="#c0c0c0"/>
<rect x="1251" y="829" width="1" height="2" fill="#c0c0c0"/>
<rect x="1259" y="829" width="1" height="2" fill="#c0c0c0"/>
<rect x="1267" y="829" width="1" height="1" fill="#c0c0c0"/>
<rect x="1275" y="829" width="1" height="1" fill="#c0c0c0"/>
<rect x="1283" y="829" width="1" height="1" fill="#c0c0c0"/>
<rect x="1291" y="829" width="1" height="2" fill="#c0c0c0"/>
<rect x="1299" y="829" width="1" height="2" fill="#c0c0c0"/>
<rect x="1307" y="829" width="1" height="3" fill="#c0c0c0"/>
<rect x="1315" y="829" width="1" height="5" fill="#c0c0c0"/>
<rect x="1323" y="829" width="1" height="7" fill="#c0c0c0"/>
<rect x="1331" y="829" width="1" height="9" fill="#c0c0c0"/>
<rect x="1339" y="829" width="1" height="12" fill="#c0c0c0"/>
<rect x="1347" y="829" width="1" height="14" fill="#c0c0c0"/>
<rect x="1355" y="829" width="1" height="16" fill="#c0c0c0"/>
<rect x="1363" y="829" width="1" height="19" fill="#c0c0c0"/>
<rect x="1371" y="829" width="1" height="19" fill="#c0c0c0"/>
<rect x="1379" y="829" width="1" height="19" fill="#c0c0c0"/>
<rect x="1387" y="829" width="1" height="17" fill="#c0c0c0"/>
<rect x="1395" y="829" width="1" height="16" fill="#c0c0c0"/>
<rect x="1403" y="829" width="1" height="14" fill="#c0c0c0"/>
<rect x="1411" y="829" width="1" height="13" fill="#c0c0c0"/>
<rect x="1419" y="829" width="1" height="13" fill="#c0c0c0"/>
<rect x="1427" y="829" width="1" height="13" fill="#c0c0c0"/>
<rect x="1435" y="829" width="1" height="11" fill="#c0c0c0"/>
<rect x="1443" y="829" width="1" height="10" fill="#c0c0c0"/>
<rect x="1451" y="829" width="1" height="9" fill="#c0c0c0"/>
<rect x="1459" y="829" width="1" height="7" fill="#c0c0c0"/>
<rect x="1467" y="829" width="1" height="6" fill="#c0c0c0"/>
<rect x="1475" y="829" width="1" height="4" fill="#c0c0c0"/>
<rect x="1483" y="829" width="1" height="4" fill="#c0c0c0"/>
<rect x="1491" y="829" width="1" height="2" fill="#c0c0c0"/>
<path d="M3.5,805.35 L11.5,805.35 L19.5,806.35 L27.5,807.02 L35.5,808.35 L43.5,812.18 L51.5,816.70 L59.5,820.03 L67.5,824.21 L75.5,832.05 L83.5,835.89 L91.5,840.06 L99.5,845.33 L107.5,849.74 L115.5,852.58 L123.5,855.41 L131.5,857.08 L139.5,858.42 L147.5,859.19 L155.5,859.83 L163.5,860.30 L171.5,860.79 L179.5,861.26 L187.5,861.26 L195.5,861.26 L203.5,861.46 L211.5,862.26 L219.5,863.13 L227.5,864.10 L235.5,864.93 L243.5,865.43 L251.5,866.26 L259.5,867.10 L267.5,867.26 L275.5,866.43 L283.5,865.09 L291.5,863.93 L299.5,862.26 L307.5,860.09 L315.5,858.42 L323.5,855.08 L331.5,853.41 L339.5,850.57 L347.5,849.24 L355.5,848.07 L363.5,846.29 L371.5,845.07 L379.5,844.04 L387.5,842.88 L395.5,841.40 L403.5,839.73 L411.5,838.39 L419.5,836.10 L427.5,834.98 L435.5,833.93 L443.5,832.70 L451.5,831.33 L459.5,830.05 L467.5,829.77 L475.5,829.55 L483.5,829.55 L491.5,829.55 L499.5,829.55 L507.5,828.38 L515.5,828.38 L523.5,828.38 L531.5,829.55 L539.5,829.55 L547.5,829.55 L555.5,829.55 L563.5,829.55 L571.5,829.55 L579.5,827.54 L587.5,826.21 L595.5,823.37 L603.5,822.54 L611.5,819.53 L619.5,816.23 L627.5,813.02 L635.5,810.35 L643.5,808.35 L651.5,804.18 L659.5,802.51 L667.5,801.34 L675.5,800.51 L683.5,800.51 L691.5,800.51 L699.5,800.51 L707.5,800.51 L715.5,801.34 L723.5,802.01 L731.5,802.40 L739.5,803.34 L747.5,804.18 L755.5,804.41 L763.5,805.35 L771.5,806.35 L779.5,807.18 L787.5,808.35 L795.5,809.52 L803.5,810.85 L811.5,813.86 L819.5,815.86 L827.5,817.53 L835.5,820.46 L843.5,823.37 L851.5,825.04 L859.5,829.21 L867.5,830.38 L875.5,831.50 L883.5,832.55 L891.5,833.38 L899.5,834.22 L907.5,834.22 L915.5,833.38 L923.5,833.38 L931.5,833.38 L939.5,832.22 L947.5,832.22 L955.5,832.22 L963.5,831.21 L971.5,831.21 L979.5,831.21 L987.5,831.21 L995.5,831.21 L1003.5,831.21 L1011.5,832.22 L1019.5,832.22 L1027.5,832.22 L1035.5,833.38 L1043.5,834.55 L1051.5,835.39 L1059.5,836.22 L1067.5,837.78 L1075.5,838.72 L1083.5,840.12 L1091.5,841.01 L1099.5,842.56 L1107.5,843.40 L1115.5,843.40 L1123.5,843.40 L1131.5,843.40 L1139.5,843.40 L1147.5,841.95 L1155.5,840.39 L1163.5,839.23 L1171.5,838.06 L1179.5,836.16 L1187.5,835.14 L1195.5,834.14 L1203.5,833.38 L1211.5,832.55 L1219.5,832.05 L1227.5,831.18 L1235.5,831.07 L1243.5,830.95 L1251.5,830.84 L1259.5,830.73 L1267.5,830.62 L1275.5,830.51 L1283.5,830.38 L1291.5,830.38 L1299.5,831.38 L1307.5,831.38 L1315.5,831.60 L1323.5,832.05 L1331.5,832.55 L1339.5,833.38 L1347.5,835.00 L1355.5,837.56 L1363.5,838.72 L1371.5,841.73 L1379.5,842.56 L1387.5,843.73 L1395.5,844.23 L1403.5,845.40 L1411.5,845.40 L1419.5,845.40 L1427.5,845.40 L1435.5,844.57 L1443.5,843.38 L1451.5,842.52 L1459.5,841.73 L1467.5,839.85 L1475.5,839.25 L1483.5,838.45 L1491.5,836.72" fill="none" stroke="#ff0000" stroke-width="1" stroke-dasharray="3 3" clip-path="url(#cd)" shape-rendering="crispEdges"/>
<path d="M6,9 H13 L9.5,13 Z" fill="#000" shape-rendering="crispEdges"/>
<text x="18.2" y="14" font-size="10.2" fill="#000" stroke="#000" stroke-width="0.15" textLength="54.4" lengthAdjust="spacingAndGlyphs">USDCHF,H1</text>
<text x="79" y="14" font-size="10.2" fill="#000" stroke="#000" stroke-width="0.15" textLength="141" lengthAdjust="spacingAndGlyphs">0.92274 0.92342 0.92221 0.92290</text>
<rect x="2" y="2" width="1511" height="1" fill="#000"/>
<rect x="2" y="588" width="1511" height="1" fill="#000"/>
<rect x="2" y="2" width="1" height="587" fill="#000"/>
<rect x="1512" y="2" width="1" height="587" fill="#000"/>
<rect x="2" y="590" width="1511" height="1" fill="#000"/>
<rect x="2" y="686" width="1511" height="1" fill="#000"/>
<rect x="2" y="590" width="1" height="97" fill="#000"/>
<rect x="1512" y="590" width="1" height="97" fill="#000"/>
<rect x="2" y="688" width="1511" height="1" fill="#000"/>
<rect x="2" y="791" width="1511" height="1" fill="#000"/>
<rect x="2" y="688" width="1" height="104" fill="#000"/>
<rect x="1512" y="688" width="1" height="104" fill="#000"/>
<rect x="2" y="793" width="1511" height="1" fill="#000"/>
<rect x="2" y="875" width="1511" height="1" fill="#000"/>
<rect x="2" y="793" width="1" height="83" fill="#000"/>
<rect x="1512" y="793" width="1" height="83" fill="#000"/>
<rect x="1513" y="20" width="2" height="1" fill="#000"/>
<text x="1517.6" y="24" font-size="10.2" fill="#000" stroke="#000" stroke-width="0.15" textLength="33" lengthAdjust="spacingAndGlyphs">0.94115</text>
<rect x="1513" y="54" width="2" height="1" fill="#000"/>
<text x="1517.6" y="58" font-size="10.2" fill="#000" stroke="#000" stroke-width="0.15" textLength="33" lengthAdjust="spacingAndGlyphs">0.93965</text>
<rect x="1513" y="87" width="2" height="1" fill="#000"/>
<text x="1517.6" y="91" font-size="10.2" fill="#000" stroke="#000" stroke-width="0.15" textLength="33" lengthAdjust="spacingAndGlyphs">0.93820</text>
<rect x="1513" y="120" width="2" height="1" fill="#000"/>
<text x="1517.6" y="124" font-size="10.2" fill="#000" stroke="#000" stroke-width="0.15" textLength="33" lengthAdjust="spacingAndGlyphs">0.93675</text>
<rect x="1513" y="153" width="2" height="1" fill="#000"/>
<text x="1517.6" y="157" font-size="10.2" fill="#000" stroke="#000" stroke-width="0.15" textLength="33" lengthAdjust="spacingAndGlyphs">0.93525</text>
<rect x="1513" y="187" width="2" height="1" fill="#000"/>
<text x="1517.6" y="191" font-size="10.2" fill="#000" stroke="#000" stroke-width="0.15" textLength="33" lengthAdjust="spacingAndGlyphs">0.93375</text>
<rect x="1513" y="220" width="2" height="1" fill="#000"/>
<text x="1517.6" y="224" font-size="10.2" fill="#000" stroke="#000" stroke-width="0.15" textLength="33" lengthAdjust="spacingAndGlyphs">0.93230</text>
<rect x="1513" y="253" width="2" height="1" fill="#000"/>
<text x="1517.6" y="257" font-size="10.2" fill="#000" stroke="#000" stroke-width="0.15" textLength="33" lengthAdjust="spacingAndGlyphs">0.93085</text>
<rect x="1513" y="286" width="2" height="1" fill="#000"/>
<text x="1517.6" y="290" font-size="10.2" fill="#000" stroke="#000" stroke-width="0.15" textLength="33" lengthAdjust="spacingAndGlyphs">0.92935</text>
<rect x="1513" y="319" width="2" height="1" fill="#000"/>
<text x="1517.6" y="323" font-size="10.2" fill="#000" stroke="#000" stroke-width="0.15" textLength="33" lengthAdjust="spacingAndGlyphs">0.92790</text>
<rect x="1513" y="352" width="2" height="1" fill="#000"/>
<text x="1517.6" y="356" font-size="10.2" fill="#000" stroke="#000" stroke-width="0.15" textLength="33" lengthAdjust="spacingAndGlyphs">0.92645</text>
<rect x="1513" y="385" width="2" height="1" fill="#000"/>
<text x="1517.6" y="389" font-size="10.2" fill="#000" stroke="#000" stroke-width="0.15" textLength="33" lengthAdjust="spacingAndGlyphs">0.92500</text>
<rect x="1513" y="452" width="2" height="1" fill="#000"/>
<text x="1517.6" y="456" font-size="10.2" fill="#000" stroke="#000" stroke-width="0.15" textLength="33" lengthAdjust="spacingAndGlyphs">0.92200</text>
<rect x="1513" y="552" width="2" height="1" fill="#000"/>
<text x="1517.6" y="556" font-size="10.2" fill="#000" stroke="#000" stroke-width="0.15" textLength="33" lengthAdjust="spacingAndGlyphs">0.91760</text>
<rect x="1513" y="585" width="2" height="1" fill="#000"/>
<text x="1517.6" y="589" font-size="10.2" fill="#000" stroke="#000" stroke-width="0.15" textLength="33" lengthAdjust="spacingAndGlyphs">0.91610</text>
<rect x="1514" y="361" width="41" height="11" fill="#ff0000"/>
<rect x="1513" y="366" width="2" height="1" fill="#000"/>
<text x="1517.6" y="370" font-size="10.2" fill="#fff" stroke="#fff" stroke-width="0.15" textLength="33" lengthAdjust="spacingAndGlyphs">0.92578</text>
<rect x="1514" y="412" width="41" height="11" fill="#ff0000"/>
<rect x="1513" y="417" width="2" height="1" fill="#000"/>
<text x="1517.6" y="421" font-size="10.2" fill="#fff" stroke="#fff" stroke-width="0.15" textLength="33" lengthAdjust="spacingAndGlyphs">0.92353</text>
<rect x="1514" y="427" width="41" height="11" fill="#000"/>
<rect x="1513" y="432" width="2" height="1" fill="#000"/>
<text x="1517.6" y="436" font-size="10.2" fill="#fff" stroke="#fff" stroke-width="0.15" textLength="33" lengthAdjust="spacingAndGlyphs">0.92290</text>
<rect x="1514" y="481" width="41" height="11" fill="#008000"/>
<rect x="1513" y="486" width="2" height="1" fill="#000"/>
<text x="1517.6" y="490" font-size="10.2" fill="#fff" stroke="#fff" stroke-width="0.15" textLength="33" lengthAdjust="spacingAndGlyphs">0.92047</text>
<rect x="1514" y="514" width="41" height="11" fill="#008000"/>
<rect x="1513" y="519" width="2" height="1" fill="#000"/>
<text x="1517.6" y="523" font-size="10.2" fill="#fff" stroke="#fff" stroke-width="0.15" textLength="33" lengthAdjust="spacingAndGlyphs">0.91901</text>
<rect x="3" y="876" width="1" height="3" fill="#000"/>
<text x="2" y="888" font-size="10.2" fill="#000" stroke="#000" stroke-width="0.15" textLength="45.78" lengthAdjust="spacingAndGlyphs">6 Jan 2023</text>
<rect x="67" y="876" width="1" height="3" fill="#000"/>
<text x="66" y="888" font-size="10.2" fill="#000" stroke="#000" stroke-width="0.15" textLength="48.35" lengthAdjust="spacingAndGlyphs">6 Jan 22:00</text>
<rect x="131" y="876" width="1" height="3" fill="#000"/>
<text x="130" y="888" font-size="10.2" fill="#000" stroke="#000" stroke-width="0.15" textLength="48.35" lengthAdjust="spacingAndGlyphs">9 Jan 06:00</text>
<rect x="195" y="876" width="1" height="3" fill="#000"/>
<text x="194" y="888" font-size="10.2" fill="#000" stroke="#000" stroke-width="0.15" textLength="48.35" lengthAdjust="spacingAndGlyphs">9 Jan 14:00</text>
<rect x="259" y="876" width="1" height="3" fill="#000"/>
<text x="258" y="888" font-size="10.2" fill="#000" stroke="#000" stroke-width="0.15" textLength="48.35" lengthAdjust="spacingAndGlyphs">9 Jan 22:00</text>
<rect x="323" y="876" width="1" height="3" fill="#000"/>
<text x="322" y="888" font-size="10.2" fill="#000" stroke="#000" stroke-width="0.15" textLength="53.49" lengthAdjust="spacingAndGlyphs">10 Jan 06:00</text>
<rect x="387" y="876" width="1" height="3" fill="#000"/>
<text x="386" y="888" font-size="10.2" fill="#000" stroke="#000" stroke-width="0.15" textLength="53.49" lengthAdjust="spacingAndGlyphs">10 Jan 14:00</text>
<rect x="451" y="876" width="1" height="3" fill="#000"/>
<text x="450" y="888" font-size="10.2" fill="#000" stroke="#000" stroke-width="0.15" textLength="53.49" lengthAdjust="spacingAndGlyphs">10 Jan 22:00</text>
<rect x="515" y="876" width="1" height="3" fill="#000"/>
<text x="514" y="888" font-size="10.2" fill="#000" stroke="#000" stroke-width="0.15" textLength="53.49" lengthAdjust="spacingAndGlyphs">11 Jan 06:00</text>
<rect x="579" y="876" width="1" height="3" fill="#000"/>
<text x="578" y="888" font-size="10.2" fill="#000" stroke="#000" stroke-width="0.15" textLength="53.49" lengthAdjust="spacingAndGlyphs">11 Jan 14:00</text>
<rect x="643" y="876" width="1" height="3" fill="#000"/>
<text x="642" y="888" font-size="10.2" fill="#000" stroke="#000" stroke-width="0.15" textLength="53.49" lengthAdjust="spacingAndGlyphs">11 Jan 22:00</text>
<rect x="707" y="876" width="1" height="3" fill="#000"/>
<text x="706" y="888" font-size="10.2" fill="#000" stroke="#000" stroke-width="0.15" textLength="53.49" lengthAdjust="spacingAndGlyphs">12 Jan 06:00</text>
<rect x="771" y="876" width="1" height="3" fill="#000"/>
<text x="770" y="888" font-size="10.2" fill="#000" stroke="#000" stroke-width="0.15" textLength="53.49" lengthAdjust="spacingAndGlyphs">12 Jan 14:00</text>
<rect x="835" y="876" width="1" height="3" fill="#000"/>
<text x="834" y="888" font-size="10.2" fill="#000" stroke="#000" stroke-width="0.15" textLength="53.49" lengthAdjust="spacingAndGlyphs">12 Jan 22:00</text>
<rect x="899" y="876" width="1" height="3" fill="#000"/>
<text x="898" y="888" font-size="10.2" fill="#000" stroke="#000" stroke-width="0.15" textLength="53.49" lengthAdjust="spacingAndGlyphs">13 Jan 06:00</text>
<rect x="963" y="876" width="1" height="3" fill="#000"/>
<text x="962" y="888" font-size="10.2" fill="#000" stroke="#000" stroke-width="0.15" textLength="53.49" lengthAdjust="spacingAndGlyphs">13 Jan 14:00</text>
<rect x="1027" y="876" width="1" height="3" fill="#000"/>
<text x="1026" y="888" font-size="10.2" fill="#000" stroke="#000" stroke-width="0.15" textLength="53.49" lengthAdjust="spacingAndGlyphs">13 Jan 22:00</text>
<rect x="1091" y="876" width="1" height="3" fill="#000"/>
<text x="1090" y="888" font-size="10.2" fill="#000" stroke="#000" stroke-width="0.15" textLength="53.49" lengthAdjust="spacingAndGlyphs">16 Jan 06:00</text>
<rect x="1155" y="876" width="1" height="3" fill="#000"/>
<text x="1154" y="888" font-size="10.2" fill="#000" stroke="#000" stroke-width="0.15" textLength="53.49" lengthAdjust="spacingAndGlyphs">16 Jan 14:00</text>
<rect x="1219" y="876" width="1" height="3" fill="#000"/>
<text x="1218" y="888" font-size="10.2" fill="#000" stroke="#000" stroke-width="0.15" textLength="53.49" lengthAdjust="spacingAndGlyphs">16 Jan 22:00</text>
<rect x="1283" y="876" width="1" height="3" fill="#000"/>
<text x="1282" y="888" font-size="10.2" fill="#000" stroke="#000" stroke-width="0.15" textLength="53.49" lengthAdjust="spacingAndGlyphs">17 Jan 06:00</text>
<rect x="1347" y="876" width="1" height="3" fill="#000"/>
<text x="1346" y="888" font-size="10.2" fill="#000" stroke="#000" stroke-width="0.15" textLength="53.49" lengthAdjust="spacingAndGlyphs">17 Jan 14:00</text>
<rect x="1411" y="876" width="1" height="3" fill="#000"/>
<text x="1410" y="888" font-size="10.2" fill="#000" stroke="#000" stroke-width="0.15" textLength="53.49" lengthAdjust="spacingAndGlyphs">17 Jan 22:00</text>
<rect x="1475" y="876" width="1" height="3" fill="#000"/>
<text x="1474" y="888" font-size="10.2" fill="#000" stroke="#000" stroke-width="0.15" textLength="53.49" lengthAdjust="spacingAndGlyphs">18 Jan 06:00</text>
<text x="1515.5" y="601" font-size="10.2" fill="#000" stroke="#000" stroke-width="0.15" textLength="15.43" lengthAdjust="spacingAndGlyphs">100</text>
<text x="1515.5" y="624" font-size="10.2" fill="#000" stroke="#000" stroke-width="0.15" textLength="10.29" lengthAdjust="spacingAndGlyphs">70</text>
<text x="1515.5" y="661" font-size="10.2" fill="#000" stroke="#000" stroke-width="0.15" textLength="10.29" lengthAdjust="spacingAndGlyphs">30</text>
<text x="1515.5" y="683" font-size="10.2" fill="#000" stroke="#000" stroke-width="0.15" textLength="5.14" lengthAdjust="spacingAndGlyphs">0</text>
<text x="1515.5" y="699" font-size="10.2" fill="#000" stroke="#000" stroke-width="0.15" textLength="15.43" lengthAdjust="spacingAndGlyphs">100</text>
<text x="1515.5" y="714" font-size="10.2" fill="#000" stroke="#000" stroke-width="0.15" textLength="10.29" lengthAdjust="spacingAndGlyphs">80</text>
<text x="1515.5" y="774" font-size="10.2" fill="#000" stroke="#000" stroke-width="0.15" textLength="10.29" lengthAdjust="spacingAndGlyphs">20</text>
<text x="1515.5" y="788" font-size="10.2" fill="#000" stroke="#000" stroke-width="0.15" textLength="5.14" lengthAdjust="spacingAndGlyphs">0</text>
<text x="1515.5" y="804" font-size="10.2" fill="#000" stroke="#000" stroke-width="0.15" textLength="38.58" lengthAdjust="spacingAndGlyphs">0.002624</text>
<text x="1515.5" y="833" font-size="10.2" fill="#000" stroke="#000" stroke-width="0.15" textLength="18.0" lengthAdjust="spacingAndGlyphs">0.00</text>
<text x="1515.5" y="873" font-size="10.2" fill="#000" stroke="#000" stroke-width="0.15" textLength="36.52" lengthAdjust="spacingAndGlyphs">-0.00353</text>
<rect x="1513" y="829" width="2" height="1" fill="#000"/>
<rect x="1513" y="592" width="1" height="1" fill="#000"/>
<rect x="1513" y="685" width="1" height="1" fill="#000"/>
<rect x="1513" y="690" width="1" height="1" fill="#000"/>
<rect x="1513" y="790" width="1" height="1" fill="#000"/>
<rect x="1513" y="795" width="1" height="1" fill="#000"/>
<rect x="1513" y="874" width="1" height="1" fill="#000"/>
<text x="7.5" y="603" font-size="10.2" fill="#000" stroke="#000" stroke-width="0.15" textLength="67.5" lengthAdjust="spacingAndGlyphs">RSI(14) 50.1990</text>
<text x="80.5" y="603" font-size="10.2" fill="#000" stroke="#000" stroke-width="0.15" textLength="73" lengthAdjust="spacingAndGlyphs">-&gt;MA(9) 48.4304</text>
<text x="7.2" y="701" font-size="10.2" fill="#000" stroke="#000" stroke-width="0.15" textLength="121.3" lengthAdjust="spacingAndGlyphs">Stoch(5,3,3) 44.7953 53.6666</text>
<text x="7.5" y="806" font-size="10.2" fill="#000" stroke="#000" stroke-width="0.15" textLength="153.3" lengthAdjust="spacingAndGlyphs">MACD(12,26,9) -0.000264 -0.000614</text></svg>
</body></html>
